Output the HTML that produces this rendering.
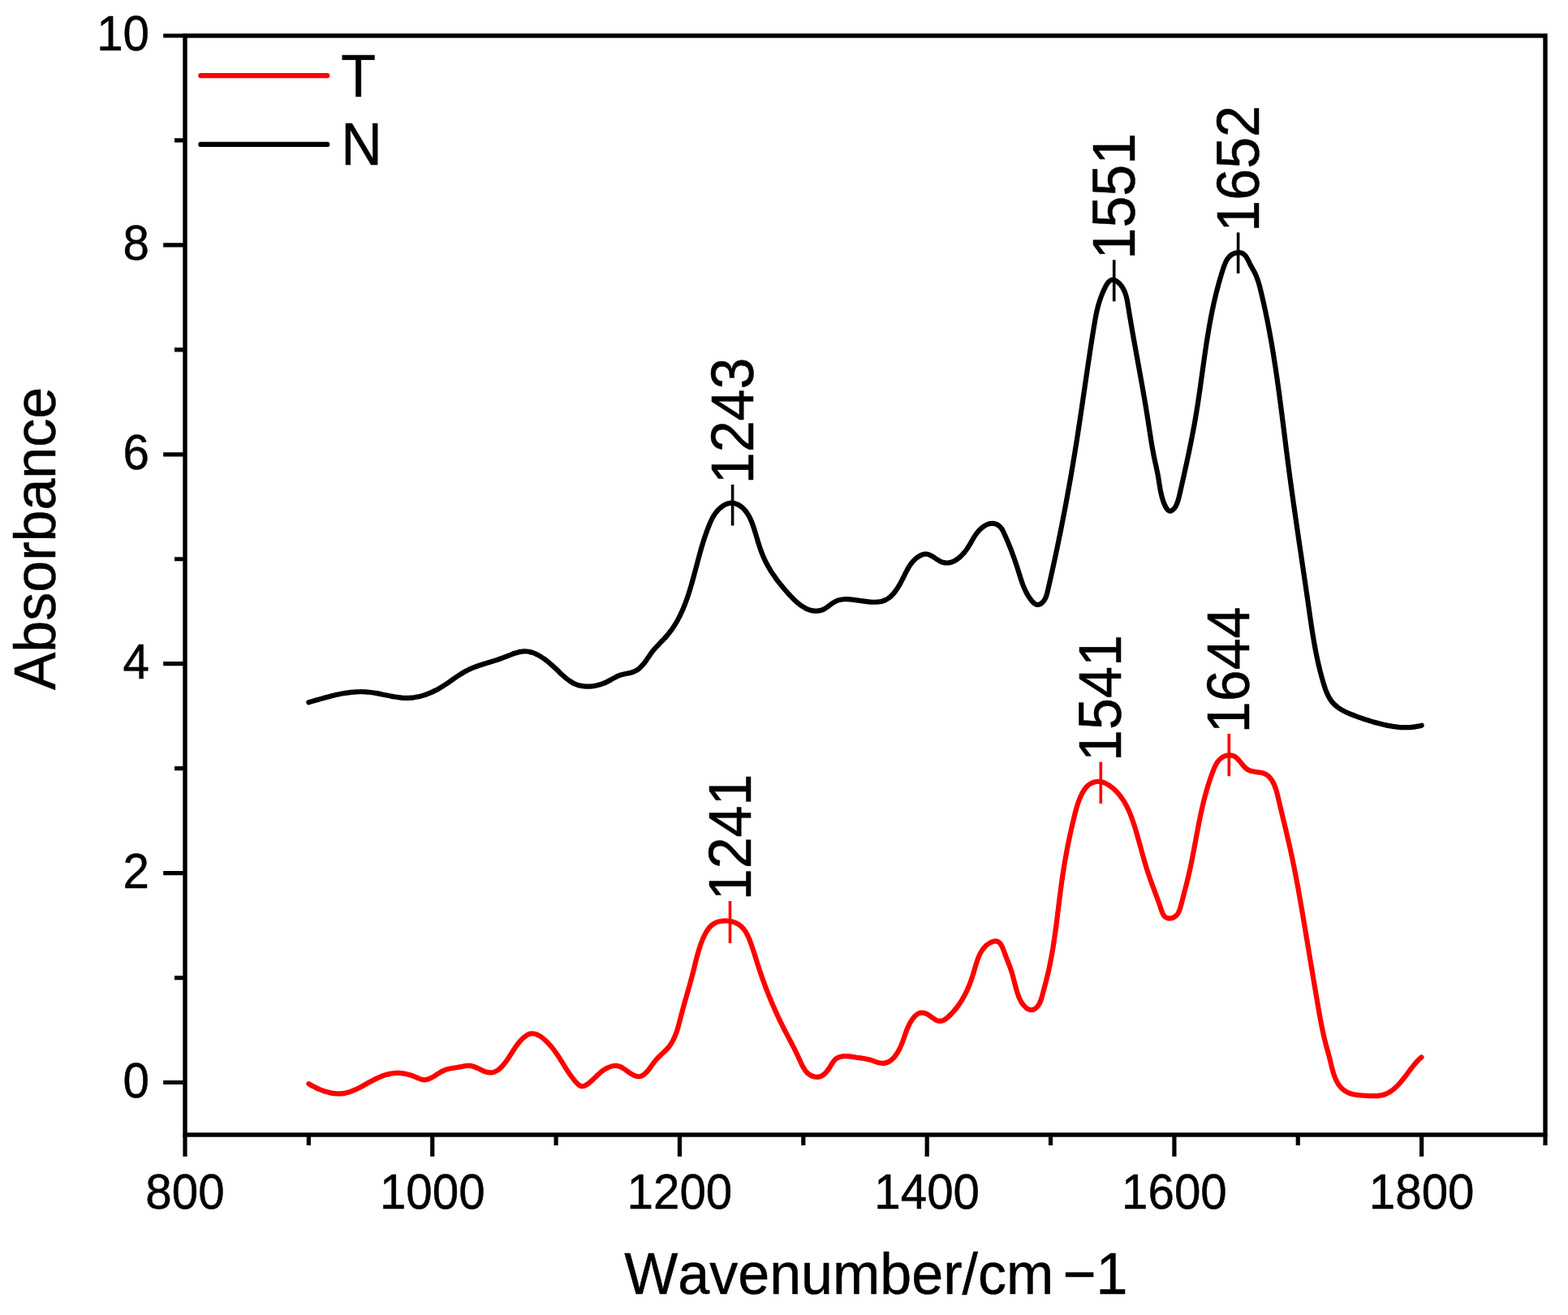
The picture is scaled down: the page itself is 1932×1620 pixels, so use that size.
<!DOCTYPE html>
<html lang="en">
<head>
<meta charset="utf-8">
<title>FTIR absorbance spectra</title>
<style>
html,body{margin:0;padding:0;background:#fff;}
body{width:1932px;height:1620px;overflow:hidden;}
svg{display:block;}
text{font-family:"Liberation Sans",Arial,Helvetica,sans-serif;fill:#000;font-kerning:none;stroke:#000;stroke-width:0.5px;stroke-linejoin:round;}
.tk{font-size:58.3px;}
.lb{font-size:70px;}
.ax{stroke:#000;fill:none;}
</style>
</head>
<body>
<svg xmlns="http://www.w3.org/2000/svg" width="1932" height="1620" viewBox="0 0 1932 1620">
<rect x="0" y="0" width="1932" height="1620" fill="#fff"/>
<g fill="none" stroke-linecap="round" stroke-linejoin="round" stroke-width="6.2">
<path stroke="#000" d="M380.32,865.21C380.95,865.03 382.83,864.5 384.1,864.14C385.36,863.78 386.63,863.41 387.9,863.05C389.17,862.68 390.44,862.32 391.72,861.95C393,861.58 394.28,861.22 395.56,860.86C396.85,860.49 398.13,860.13 399.42,859.78C400.71,859.42 402,859.07 403.3,858.72C404.59,858.38 405.89,858.04 407.19,857.71C408.49,857.38 409.8,857.06 411.1,856.75C412.41,856.44 413.71,856.13 415.02,855.84C416.33,855.56 417.65,855.28 418.96,855.02C420.28,854.75 421.59,854.5 422.91,854.27C424.23,854.04 425.55,853.82 426.87,853.63C428.19,853.43 429.52,853.25 430.84,853.09C432.17,852.93 433.5,852.79 434.82,852.67C436.15,852.55 437.48,852.45 438.81,852.38C440.14,852.31 441.48,852.26 442.81,852.24C444.14,852.21 445.48,852.21 446.81,852.24C448.15,852.28 449.49,852.33 450.82,852.42C452.16,852.51 453.5,852.63 454.84,852.77C456.17,852.92 457.51,853.09 458.85,853.28C460.19,853.48 461.53,853.7 462.87,853.92C464.21,854.15 465.55,854.4 466.88,854.66C468.22,854.91 469.56,855.18 470.9,855.45C472.23,855.72 473.57,855.99 474.91,856.27C476.24,856.54 477.57,856.81 478.91,857.07C480.24,857.34 481.57,857.6 482.9,857.84C484.23,858.08 485.55,858.32 486.88,858.53C488.2,858.74 489.53,858.94 490.85,859.11C492.17,859.27 493.48,859.42 494.8,859.54C496.11,859.65 497.43,859.74 498.73,859.79C500.04,859.84 501.35,859.86 502.65,859.83C503.95,859.81 505.25,859.74 506.54,859.64C507.84,859.53 509.13,859.39 510.42,859.2C511.7,859.02 512.98,858.8 514.26,858.55C515.53,858.29 516.8,858 518.07,857.68C519.33,857.35 520.59,857 521.85,856.61C523.1,856.22 524.35,855.8 525.58,855.35C526.82,854.9 528.06,854.42 529.28,853.92C530.51,853.41 531.73,852.88 532.93,852.32C534.14,851.76 535.35,851.17 536.54,850.56C537.73,849.95 538.92,849.32 540.09,848.67C541.27,848.01 542.43,847.34 543.59,846.64C544.74,845.95 545.89,845.23 547.03,844.5C548.17,843.77 549.29,843.02 550.42,842.26C551.54,841.51 552.65,840.73 553.77,839.96C554.88,839.19 555.99,838.41 557.1,837.64C558.2,836.86 559.31,836.08 560.42,835.31C561.53,834.55 562.63,833.78 563.75,833.03C564.86,832.28 565.98,831.54 567.1,830.83C568.23,830.11 569.36,829.4 570.5,828.73C571.64,828.05 572.79,827.39 573.95,826.77C575.11,826.14 576.28,825.55 577.46,824.98C578.65,824.41 579.84,823.88 581.05,823.36C582.26,822.84 583.47,822.36 584.7,821.88C585.92,821.41 587.16,820.96 588.4,820.52C589.64,820.08 590.89,819.66 592.15,819.25C593.4,818.84 594.67,818.44 595.93,818.04C597.2,817.65 598.48,817.26 599.75,816.87C601.03,816.48 602.31,816.1 603.59,815.71C604.88,815.33 606.16,814.94 607.45,814.54C608.74,814.15 610.03,813.75 611.32,813.33C612.6,812.92 613.89,812.49 615.18,812.05C616.47,811.61 617.76,811.16 619.04,810.68C620.33,810.21 621.61,809.71 622.89,809.2C624.16,808.7 625.44,808.17 626.71,807.66C627.99,807.16 629.26,806.64 630.52,806.16C631.79,805.68 633.05,805.21 634.31,804.79C635.57,804.37 636.83,803.97 638.08,803.65C639.33,803.32 640.58,803.03 641.83,802.83C643.08,802.62 644.32,802.47 645.56,802.42C646.8,802.37 648.03,802.41 649.26,802.52C650.49,802.64 651.72,802.85 652.94,803.12C654.16,803.39 655.38,803.75 656.59,804.16C657.79,804.57 659,805.06 660.19,805.6C661.39,806.14 662.57,806.74 663.75,807.39C664.93,808.04 666.1,808.75 667.26,809.49C668.42,810.23 669.57,811.02 670.71,811.84C671.85,812.66 672.98,813.52 674.1,814.4C675.22,815.28 676.33,816.19 677.42,817.12C678.52,818.04 679.6,819 680.67,819.95C681.74,820.91 682.79,821.88 683.84,822.85C684.88,823.82 685.9,824.8 686.92,825.77C687.93,826.73 688.93,827.7 689.93,828.65C690.92,829.6 691.91,830.55 692.9,831.46C693.9,832.37 694.88,833.28 695.88,834.14C696.88,835 697.88,835.85 698.9,836.65C699.92,837.44 700.95,838.21 702,838.93C703.05,839.64 704.11,840.32 705.2,840.93C706.3,841.55 707.41,842.12 708.56,842.62C709.71,843.12 710.89,843.57 712.1,843.94C713.31,844.32 714.56,844.63 715.82,844.88C717.08,845.13 718.37,845.32 719.67,845.45C720.98,845.58 722.3,845.65 723.63,845.67C724.96,845.69 726.3,845.64 727.64,845.55C728.99,845.45 730.34,845.3 731.68,845.1C733.02,844.9 734.36,844.65 735.68,844.35C737.01,844.04 738.33,843.69 739.63,843.3C740.93,842.9 742.21,842.45 743.47,841.97C744.73,841.48 745.96,840.94 747.17,840.37C748.37,839.8 749.53,839.17 750.69,838.54C751.85,837.91 752.97,837.23 754.12,836.59C755.26,835.94 756.39,835.27 757.56,834.66C758.73,834.05 759.9,833.44 761.13,832.91C762.37,832.38 763.63,831.89 764.95,831.48C766.27,831.07 767.66,830.76 769.05,830.45C770.43,830.13 771.87,829.89 773.27,829.59C774.66,829.29 776.08,829.02 777.41,828.66C778.74,828.29 780.05,827.89 781.27,827.38C782.49,826.87 783.62,826.27 784.71,825.59C785.79,824.92 786.8,824.15 787.77,823.34C788.75,822.52 789.66,821.63 790.54,820.7C791.42,819.77 792.26,818.77 793.08,817.76C793.9,816.74 794.68,815.67 795.46,814.59C796.24,813.52 796.99,812.41 797.76,811.3C798.52,810.19 799.28,809.06 800.05,807.94C800.82,806.83 801.6,805.71 802.4,804.62C803.21,803.53 804.04,802.45 804.89,801.4C805.75,800.35 806.63,799.32 807.53,798.31C808.43,797.3 809.35,796.31 810.28,795.32C811.2,794.34 812.14,793.37 813.08,792.4C814.01,791.43 814.96,790.46 815.89,789.49C816.82,788.53 817.75,787.56 818.66,786.58C819.56,785.6 820.46,784.61 821.34,783.61C822.21,782.61 823.06,781.59 823.89,780.56C824.72,779.53 825.52,778.49 826.31,777.43C827.1,776.37 827.86,775.3 828.61,774.22C829.35,773.14 830.08,772.04 830.79,770.94C831.5,769.83 832.18,768.71 832.86,767.58C833.53,766.45 834.18,765.31 834.82,764.16C835.45,763.01 836.07,761.85 836.68,760.68C837.28,759.51 837.87,758.33 838.44,757.14C839.02,755.96 839.57,754.76 840.12,753.55C840.66,752.35 841.19,751.14 841.71,749.92C842.23,748.7 842.73,747.47 843.22,746.23C843.72,745 844.2,743.76 844.66,742.51C845.13,741.26 845.59,740.01 846.04,738.75C846.49,737.5 846.93,736.23 847.35,734.97C847.78,733.7 848.2,732.43 848.61,731.15C849.03,729.88 849.43,728.6 849.82,727.31C850.22,726.03 850.61,724.75 850.99,723.46C851.37,722.17 851.75,720.88 852.12,719.59C852.49,718.3 852.86,717.01 853.22,715.71C853.58,714.42 853.94,713.13 854.29,711.83C854.64,710.54 854.99,709.24 855.34,707.95C855.69,706.65 856.03,705.36 856.38,704.06C856.72,702.77 857.06,701.48 857.41,700.18C857.75,698.89 858.09,697.6 858.43,696.3C858.77,695.01 859.11,693.72 859.45,692.43C859.8,691.14 860.14,689.85 860.49,688.56C860.83,687.27 861.18,685.98 861.53,684.7C861.88,683.41 862.24,682.12 862.59,680.84C862.95,679.56 863.31,678.27 863.68,676.99C864.05,675.71 864.42,674.43 864.8,673.16C865.18,671.88 865.56,670.6 865.95,669.33C866.34,668.06 866.74,666.79 867.14,665.52C867.55,664.25 867.96,662.98 868.38,661.72C868.8,660.45 869.23,659.19 869.67,657.93C870.11,656.68 870.56,655.42 871.02,654.17C871.48,652.91 871.95,651.66 872.43,650.42C872.92,649.17 873.4,647.92 873.91,646.69C874.42,645.45 874.94,644.21 875.49,642.99C876.04,641.77 876.6,640.56 877.21,639.38C877.81,638.19 878.44,637.02 879.13,635.88C879.81,634.74 880.52,633.62 881.29,632.54C882.06,631.46 882.88,630.41 883.76,629.4C884.64,628.4 885.57,627.42 886.58,626.51C887.58,625.59 888.67,624.7 889.79,623.9C890.92,623.11 892.13,622.35 893.35,621.74C894.57,621.13 895.85,620.59 897.13,620.23C898.41,619.87 899.73,619.62 901.02,619.57C902.32,619.53 903.64,619.68 904.91,619.97C906.19,620.27 907.47,620.78 908.67,621.35C909.87,621.92 911.04,622.64 912.13,623.38C913.22,624.13 914.24,624.95 915.2,625.82C916.17,626.69 917.06,627.62 917.91,628.6C918.76,629.57 919.54,630.6 920.29,631.67C921.03,632.74 921.72,633.85 922.38,635C923.04,636.14 923.65,637.33 924.23,638.54C924.81,639.75 925.35,640.99 925.87,642.25C926.39,643.51 926.87,644.8 927.34,646.09C927.81,647.38 928.25,648.7 928.68,650.01C929.12,651.33 929.53,652.66 929.94,653.98C930.35,655.31 930.75,656.63 931.15,657.95C931.54,659.27 931.93,660.59 932.33,661.91C932.72,663.22 933.11,664.54 933.51,665.84C933.91,667.15 934.3,668.45 934.71,669.74C935.12,671.03 935.53,672.32 935.95,673.6C936.37,674.88 936.8,676.15 937.25,677.41C937.69,678.67 938.15,679.92 938.63,681.16C939.11,682.4 939.6,683.62 940.11,684.84C940.63,686.06 941.16,687.26 941.71,688.45C942.26,689.65 942.82,690.83 943.41,692C943.99,693.17 944.6,694.33 945.22,695.48C945.84,696.63 946.47,697.77 947.13,698.91C947.78,700.04 948.45,701.16 949.13,702.28C949.82,703.39 950.52,704.5 951.23,705.6C951.95,706.7 952.68,707.79 953.42,708.87C954.16,709.96 954.92,711.03 955.7,712.1C956.47,713.17 957.25,714.23 958.05,715.29C958.85,716.35 959.67,717.4 960.49,718.45C961.32,719.5 962.15,720.54 963,721.57C963.85,722.61 964.72,723.64 965.59,724.67C966.46,725.7 967.35,726.72 968.24,727.74C969.14,728.76 970.04,729.78 970.96,730.8C971.87,731.81 972.8,732.83 973.74,733.83C974.67,734.84 975.62,735.84 976.58,736.82C977.55,737.8 978.52,738.77 979.51,739.7C980.51,740.64 981.51,741.56 982.54,742.43C983.56,743.31 984.61,744.16 985.67,744.96C986.74,745.76 987.82,746.52 988.93,747.22C990.04,747.93 991.17,748.59 992.32,749.18C993.48,749.77 994.66,750.31 995.86,750.77C997.07,751.23 998.31,751.64 999.55,751.94C1000.8,752.25 1002.07,752.48 1003.34,752.6C1004.61,752.72 1005.9,752.76 1007.17,752.67C1008.45,752.58 1009.73,752.39 1010.99,752.05C1012.25,751.72 1013.5,751.25 1014.73,750.66C1015.96,750.07 1017.17,749.29 1018.37,748.5C1019.57,747.71 1020.74,746.77 1021.92,745.9C1023.1,745.04 1024.26,744.1 1025.43,743.3C1026.61,742.51 1027.77,741.75 1028.96,741.13C1030.14,740.52 1031.32,740.02 1032.52,739.61C1033.71,739.21 1034.92,738.91 1036.14,738.68C1037.36,738.45 1038.59,738.31 1039.83,738.23C1041.08,738.14 1042.34,738.13 1043.62,738.16C1044.9,738.19 1046.19,738.28 1047.51,738.39C1048.83,738.5 1050.17,738.65 1051.51,738.82C1052.86,738.98 1054.23,739.18 1055.61,739.38C1056.98,739.57 1058.37,739.79 1059.75,740C1061.14,740.2 1062.53,740.42 1063.92,740.62C1065.31,740.81 1066.7,741 1068.08,741.16C1069.46,741.32 1070.84,741.47 1072.2,741.57C1073.57,741.67 1074.92,741.74 1076.26,741.76C1077.59,741.78 1078.91,741.77 1080.2,741.69C1081.5,741.61 1082.77,741.48 1084.02,741.27C1085.26,741.06 1086.48,740.8 1087.67,740.44C1088.85,740.08 1090.01,739.66 1091.12,739.13C1092.23,738.61 1093.31,737.99 1094.35,737.29C1095.38,736.59 1096.38,735.79 1097.35,734.94C1098.31,734.08 1099.24,733.14 1100.14,732.15C1101.04,731.16 1101.9,730.1 1102.74,729C1103.58,727.91 1104.38,726.75 1105.17,725.58C1105.95,724.4 1106.7,723.18 1107.44,721.95C1108.17,720.72 1108.88,719.45 1109.56,718.19C1110.25,716.94 1110.92,715.66 1111.57,714.39C1112.22,713.13 1112.85,711.86 1113.47,710.62C1114.1,709.38 1114.7,708.14 1115.31,706.93C1115.92,705.72 1116.52,704.52 1117.14,703.35C1117.77,702.18 1118.39,701.03 1119.04,699.91C1119.7,698.78 1120.36,697.69 1121.07,696.62C1121.78,695.56 1122.51,694.52 1123.3,693.52C1124.08,692.53 1124.9,691.56 1125.79,690.64C1126.67,689.71 1127.6,688.83 1128.61,687.99C1129.61,687.15 1130.68,686.32 1131.82,685.6C1132.96,684.87 1134.19,684.13 1135.43,683.62C1136.66,683.11 1137.96,682.68 1139.23,682.55C1140.5,682.42 1141.77,682.55 1143.03,682.84C1144.28,683.13 1145.53,683.69 1146.77,684.29C1148.02,684.89 1149.25,685.69 1150.48,686.46C1151.71,687.23 1152.94,688.11 1154.17,688.89C1155.39,689.67 1156.62,690.49 1157.85,691.13C1159.07,691.78 1160.3,692.35 1161.53,692.74C1162.76,693.12 1164,693.35 1165.22,693.44C1166.45,693.54 1167.68,693.48 1168.89,693.31C1170.11,693.14 1171.31,692.84 1172.5,692.44C1173.69,692.04 1174.87,691.51 1176.02,690.91C1177.17,690.31 1178.3,689.61 1179.4,688.84C1180.51,688.07 1181.59,687.21 1182.63,686.31C1183.67,685.4 1184.69,684.43 1185.66,683.42C1186.63,682.41 1187.57,681.34 1188.45,680.26C1189.34,679.18 1190.19,678.06 1190.99,676.94C1191.79,675.82 1192.53,674.67 1193.26,673.53C1193.98,672.38 1194.66,671.23 1195.35,670.08C1196.03,668.92 1196.68,667.77 1197.34,666.62C1198.01,665.48 1198.65,664.33 1199.33,663.21C1200.01,662.09 1200.69,660.97 1201.41,659.88C1202.13,658.8 1202.87,657.72 1203.66,656.69C1204.46,655.65 1205.28,654.63 1206.18,653.66C1207.08,652.69 1208.02,651.74 1209.05,650.85C1210.08,649.95 1211.18,649.07 1212.35,648.3C1213.51,647.54 1214.75,646.81 1216.02,646.26C1217.29,645.71 1218.62,645.26 1219.95,645.03C1221.27,644.8 1222.67,644.74 1223.97,644.87C1225.28,645.01 1226.61,645.33 1227.79,645.82C1228.98,646.3 1230.09,646.99 1231.07,647.8C1232.05,648.61 1232.89,649.61 1233.67,650.67C1234.46,651.72 1235.13,652.93 1235.79,654.14C1236.44,655.35 1237.02,656.65 1237.6,657.92C1238.19,659.19 1238.74,660.47 1239.3,661.74C1239.85,663.01 1240.39,664.27 1240.93,665.52C1241.46,666.78 1241.98,668.03 1242.5,669.27C1243.01,670.52 1243.51,671.76 1244.01,673C1244.51,674.24 1244.99,675.47 1245.47,676.71C1245.95,677.94 1246.42,679.17 1246.89,680.41C1247.35,681.64 1247.81,682.87 1248.26,684.11C1248.71,685.34 1249.15,686.57 1249.59,687.81C1250.03,689.05 1250.46,690.29 1250.88,691.53C1251.31,692.77 1251.73,694.02 1252.15,695.27C1252.56,696.52 1252.97,697.78 1253.38,699.04C1253.78,700.3 1254.18,701.57 1254.58,702.85C1254.98,704.12 1255.37,705.41 1255.77,706.69C1256.17,707.98 1256.57,709.27 1256.98,710.55C1257.39,711.84 1257.81,713.13 1258.24,714.42C1258.67,715.7 1259.11,716.99 1259.58,718.26C1260.04,719.54 1260.52,720.81 1261.02,722.07C1261.53,723.33 1262.05,724.59 1262.61,725.83C1263.17,727.06 1263.75,728.29 1264.37,729.5C1265,730.72 1265.65,731.91 1266.34,733.09C1267.04,734.27 1267.77,735.43 1268.55,736.57C1269.33,737.7 1270.15,738.85 1271.02,739.91C1271.9,740.96 1272.82,742.08 1273.79,742.89C1274.77,743.7 1275.79,744.45 1276.86,744.76C1277.94,745.07 1279.12,745.05 1280.23,744.75C1281.34,744.45 1282.54,743.72 1283.54,742.97C1284.53,742.22 1285.43,741.24 1286.19,740.24C1286.96,739.23 1287.57,738.11 1288.12,736.95C1288.67,735.8 1289.1,734.54 1289.51,733.28C1289.92,732.01 1290.24,730.68 1290.57,729.37C1290.9,728.05 1291.19,726.7 1291.5,725.36C1291.81,724.03 1292.11,722.7 1292.42,721.36C1292.72,720.03 1293.03,718.7 1293.33,717.37C1293.63,716.04 1293.93,714.71 1294.23,713.38C1294.53,712.05 1294.82,710.73 1295.12,709.4C1295.42,708.07 1295.71,706.75 1296.01,705.42C1296.3,704.1 1296.59,702.77 1296.88,701.45C1297.17,700.13 1297.46,698.81 1297.75,697.48C1298.04,696.16 1298.33,694.84 1298.62,693.52C1298.9,692.2 1299.19,690.88 1299.47,689.56C1299.75,688.24 1300.04,686.93 1300.32,685.61C1300.6,684.29 1300.88,682.97 1301.16,681.66C1301.44,680.34 1301.71,679.03 1301.99,677.71C1302.27,676.4 1302.54,675.08 1302.82,673.77C1303.09,672.46 1303.36,671.14 1303.63,669.83C1303.91,668.52 1304.18,667.2 1304.45,665.89C1304.72,664.58 1304.98,663.27 1305.25,661.96C1305.52,660.65 1305.78,659.34 1306.05,658.03C1306.31,656.72 1306.58,655.41 1306.84,654.1C1307.1,652.79 1307.36,651.48 1307.62,650.17C1307.88,648.86 1308.14,647.56 1308.4,646.25C1308.66,644.94 1308.92,643.63 1309.17,642.32C1309.43,641.02 1309.68,639.71 1309.94,638.4C1310.19,637.1 1310.44,635.79 1310.69,634.48C1310.95,633.18 1311.2,631.87 1311.44,630.56C1311.69,629.26 1311.94,627.95 1312.19,626.64C1312.44,625.34 1312.68,624.03 1312.93,622.73C1313.17,621.42 1313.42,620.12 1313.66,618.81C1313.9,617.5 1314.15,616.2 1314.39,614.89C1314.63,613.59 1314.87,612.28 1315.11,610.97C1315.35,609.67 1315.58,608.36 1315.82,607.06C1316.06,605.75 1316.3,604.44 1316.53,603.14C1316.77,601.83 1317,600.53 1317.23,599.22C1317.47,597.91 1317.7,596.61 1317.93,595.3C1318.16,593.99 1318.39,592.69 1318.62,591.38C1318.85,590.07 1319.08,588.76 1319.31,587.46C1319.53,586.15 1319.76,584.84 1319.99,583.53C1320.21,582.22 1320.44,580.91 1320.66,579.6C1320.88,578.3 1321.11,576.99 1321.33,575.68C1321.55,574.37 1321.77,573.06 1321.99,571.75C1322.21,570.43 1322.43,569.12 1322.65,567.81C1322.87,566.5 1323.09,565.19 1323.3,563.88C1323.52,562.56 1323.74,561.25 1323.95,559.94C1324.17,558.62 1324.38,557.31 1324.6,555.99C1324.81,554.68 1325.02,553.37 1325.23,552.05C1325.44,550.73 1325.66,549.42 1325.87,548.1C1326.08,546.78 1326.29,545.46 1326.49,544.15C1326.7,542.83 1326.91,541.51 1327.12,540.19C1327.32,538.87 1327.53,537.55 1327.74,536.23C1327.94,534.91 1328.15,533.58 1328.35,532.26C1328.55,530.94 1328.76,529.61 1328.96,528.29C1329.16,526.97 1329.36,525.64 1329.57,524.32C1329.77,522.99 1329.97,521.67 1330.17,520.34C1330.37,519.01 1330.57,517.69 1330.77,516.36C1330.97,515.03 1331.16,513.71 1331.36,512.38C1331.56,511.05 1331.76,509.72 1331.96,508.4C1332.15,507.07 1332.35,505.74 1332.55,504.41C1332.74,503.08 1332.94,501.75 1333.13,500.42C1333.33,499.09 1333.53,497.76 1333.72,496.44C1333.92,495.11 1334.11,493.78 1334.31,492.45C1334.5,491.12 1334.7,489.79 1334.89,488.46C1335.09,487.13 1335.28,485.8 1335.47,484.47C1335.67,483.14 1335.86,481.81 1336.06,480.49C1336.25,479.16 1336.44,477.83 1336.64,476.5C1336.83,475.17 1337.03,473.84 1337.22,472.52C1337.42,471.19 1337.61,469.86 1337.8,468.53C1338,467.21 1338.19,465.88 1338.39,464.56C1338.58,463.23 1338.78,461.9 1338.97,460.58C1339.17,459.25 1339.36,457.93 1339.56,456.61C1339.75,455.28 1339.95,453.96 1340.15,452.64C1340.34,451.31 1340.54,449.99 1340.73,448.67C1340.93,447.35 1341.13,446.03 1341.33,444.71C1341.52,443.39 1341.72,442.07 1341.92,440.75C1342.12,439.43 1342.32,438.12 1342.52,436.8C1342.72,435.48 1342.92,434.17 1343.12,432.85C1343.32,431.54 1343.52,430.23 1343.72,428.91C1343.92,427.6 1344.12,426.29 1344.33,424.98C1344.53,423.67 1344.73,422.36 1344.94,421.05C1345.14,419.75 1345.35,418.44 1345.55,417.13C1345.76,415.83 1345.96,414.52 1346.17,413.22C1346.38,411.92 1346.59,410.62 1346.8,409.32C1347.01,408.02 1347.22,406.72 1347.43,405.42C1347.64,404.12 1347.85,402.83 1348.06,401.53C1348.28,400.24 1348.49,398.95 1348.71,397.66C1348.93,396.36 1349.15,395.07 1349.39,393.78C1349.62,392.49 1349.86,391.2 1350.11,389.91C1350.36,388.62 1350.62,387.32 1350.89,386.03C1351.17,384.74 1351.45,383.45 1351.75,382.15C1352.06,380.86 1352.37,379.56 1352.71,378.26C1353.05,376.96 1353.41,375.66 1353.78,374.36C1354.16,373.06 1354.56,371.75 1354.99,370.44C1355.41,369.13 1355.86,367.82 1356.33,366.51C1356.81,365.19 1357.31,363.87 1357.85,362.55C1358.38,361.23 1358.94,359.9 1359.54,358.57C1360.14,357.23 1360.76,355.87 1361.43,354.56C1362.1,353.24 1362.8,351.88 1363.54,350.69C1364.29,349.51 1365.07,348.34 1365.9,347.43C1366.74,346.53 1367.61,345.73 1368.54,345.27C1369.47,344.82 1370.47,344.61 1371.49,344.68C1372.5,344.75 1373.59,345.14 1374.63,345.67C1375.68,346.2 1376.76,346.99 1377.75,347.84C1378.75,348.69 1379.74,349.73 1380.62,350.77C1381.5,351.81 1382.3,352.93 1383.02,354.06C1383.74,355.2 1384.37,356.37 1384.94,357.56C1385.51,358.76 1386,359.99 1386.45,361.24C1386.9,362.49 1387.29,363.77 1387.64,365.06C1387.99,366.35 1388.29,367.66 1388.58,368.98C1388.86,370.3 1389.1,371.63 1389.34,372.97C1389.58,374.31 1389.79,375.66 1390.01,377C1390.23,378.34 1390.44,379.69 1390.66,381.03C1390.88,382.37 1391.09,383.71 1391.31,385.05C1391.53,386.39 1391.75,387.72 1391.98,389.06C1392.2,390.39 1392.42,391.73 1392.65,393.06C1392.87,394.39 1393.1,395.72 1393.32,397.05C1393.55,398.38 1393.78,399.7 1394,401.03C1394.23,402.36 1394.46,403.68 1394.69,405.01C1394.92,406.33 1395.15,407.65 1395.39,408.97C1395.62,410.29 1395.85,411.61 1396.08,412.93C1396.32,414.25 1396.55,415.57 1396.78,416.89C1397.02,418.2 1397.25,419.52 1397.49,420.83C1397.72,422.15 1397.96,423.46 1398.2,424.78C1398.43,426.09 1398.67,427.4 1398.91,428.71C1399.14,430.02 1399.38,431.34 1399.62,432.65C1399.85,433.96 1400.09,435.27 1400.33,436.58C1400.57,437.88 1400.81,439.19 1401.04,440.5C1401.28,441.81 1401.52,443.12 1401.76,444.42C1402,445.73 1402.23,447.04 1402.47,448.35C1402.71,449.65 1402.95,450.96 1403.19,452.27C1403.42,453.57 1403.66,454.88 1403.9,456.18C1404.13,457.49 1404.37,458.8 1404.61,460.1C1404.84,461.41 1405.08,462.71 1405.32,464.02C1405.55,465.32 1405.79,466.63 1406.02,467.94C1406.25,469.24 1406.49,470.55 1406.72,471.85C1406.96,473.16 1407.19,474.47 1407.42,475.77C1407.65,477.08 1407.88,478.39 1408.11,479.7C1408.34,481 1408.57,482.31 1408.8,483.62C1409.03,484.93 1409.26,486.24 1409.48,487.55C1409.71,488.86 1409.94,490.17 1410.16,491.48C1410.39,492.79 1410.61,494.1 1410.83,495.42C1411.05,496.73 1411.28,498.04 1411.5,499.35C1411.72,500.67 1411.93,501.98 1412.15,503.3C1412.37,504.62 1412.59,505.93 1412.8,507.25C1413.01,508.57 1413.23,509.89 1413.44,511.21C1413.65,512.53 1413.86,513.85 1414.07,515.17C1414.28,516.49 1414.49,517.82 1414.69,519.14C1414.9,520.47 1415.1,521.79 1415.3,523.12C1415.51,524.44 1415.71,525.77 1415.91,527.1C1416.11,528.43 1416.31,529.76 1416.52,531.09C1416.72,532.41 1416.92,533.74 1417.13,535.07C1417.33,536.4 1417.54,537.73 1417.75,539.05C1417.96,540.38 1418.17,541.71 1418.38,543.03C1418.6,544.36 1418.82,545.68 1419.04,547C1419.26,548.33 1419.48,549.65 1419.71,550.96C1419.94,552.28 1420.18,553.6 1420.42,554.91C1420.66,556.23 1420.9,557.54 1421.15,558.85C1421.41,560.16 1421.66,561.47 1421.93,562.77C1422.19,564.07 1422.47,565.37 1422.74,566.67C1423.02,567.97 1423.31,569.26 1423.59,570.55C1423.88,571.84 1424.17,573.13 1424.46,574.43C1424.74,575.72 1425.03,577.01 1425.3,578.3C1425.58,579.59 1425.85,580.89 1426.11,582.18C1426.37,583.48 1426.62,584.78 1426.85,586.09C1427.08,587.39 1427.3,588.7 1427.51,590.01C1427.72,591.33 1427.92,592.64 1428.13,593.96C1428.34,595.28 1428.54,596.61 1428.75,597.94C1428.97,599.26 1429.18,600.6 1429.42,601.93C1429.66,603.26 1429.91,604.6 1430.19,605.94C1430.47,607.28 1430.77,608.62 1431.1,609.96C1431.44,611.31 1431.8,612.65 1432.2,614C1432.61,615.35 1433.04,616.7 1433.54,618.05C1434.03,619.4 1434.56,620.8 1435.15,622.1C1435.74,623.4 1436.38,624.77 1437.07,625.85C1437.77,626.94 1438.51,627.98 1439.3,628.61C1440.1,629.24 1440.96,629.66 1441.84,629.63C1442.71,629.61 1443.72,629.05 1444.58,628.46C1445.44,627.88 1446.27,627 1447,626.11C1447.73,625.23 1448.36,624.22 1448.94,623.16C1449.52,622.09 1450.02,620.93 1450.49,619.73C1450.95,618.53 1451.36,617.25 1451.74,615.95C1452.13,614.66 1452.46,613.3 1452.8,611.95C1453.13,610.6 1453.44,609.22 1453.75,607.85C1454.06,606.48 1454.37,605.11 1454.68,603.75C1454.99,602.38 1455.3,601.02 1455.61,599.66C1455.91,598.31 1456.22,596.95 1456.52,595.6C1456.83,594.25 1457.13,592.9 1457.43,591.56C1457.73,590.21 1458.03,588.87 1458.33,587.53C1458.63,586.19 1458.93,584.85 1459.22,583.52C1459.52,582.19 1459.81,580.85 1460.1,579.53C1460.4,578.2 1460.69,576.87 1460.98,575.54C1461.27,574.22 1461.56,572.9 1461.84,571.58C1462.13,570.26 1462.41,568.94 1462.69,567.62C1462.98,566.3 1463.26,564.99 1463.54,563.68C1463.82,562.36 1464.09,561.05 1464.37,559.74C1464.64,558.43 1464.92,557.12 1465.19,555.81C1465.46,554.51 1465.73,553.2 1466,551.89C1466.27,550.59 1466.53,549.29 1466.79,547.98C1467.06,546.68 1467.32,545.38 1467.58,544.07C1467.84,542.77 1468.09,541.47 1468.35,540.17C1468.6,538.87 1468.86,537.57 1469.11,536.27C1469.36,534.97 1469.61,533.67 1469.85,532.37C1470.1,531.08 1470.34,529.78 1470.58,528.48C1470.82,527.18 1471.06,525.88 1471.3,524.58C1471.54,523.28 1471.77,521.98 1472,520.68C1472.23,519.38 1472.46,518.08 1472.69,516.78C1472.91,515.48 1473.14,514.18 1473.36,512.88C1473.58,511.58 1473.8,510.27 1474.01,508.97C1474.23,507.67 1474.44,506.36 1474.65,505.06C1474.86,503.75 1475.07,502.45 1475.28,501.14C1475.48,499.83 1475.69,498.52 1475.89,497.21C1476.09,495.91 1476.29,494.6 1476.49,493.29C1476.69,491.98 1476.88,490.67 1477.08,489.35C1477.27,488.04 1477.46,486.73 1477.66,485.42C1477.85,484.1 1478.04,482.79 1478.23,481.48C1478.42,480.16 1478.6,478.85 1478.79,477.53C1478.98,476.22 1479.16,474.9 1479.35,473.58C1479.53,472.27 1479.72,470.95 1479.9,469.63C1480.09,468.31 1480.27,467 1480.45,465.68C1480.64,464.36 1480.82,463.04 1481,461.72C1481.19,460.4 1481.37,459.08 1481.55,457.76C1481.74,456.44 1481.92,455.12 1482.1,453.8C1482.29,452.48 1482.47,451.16 1482.66,449.84C1482.84,448.52 1483.03,447.2 1483.21,445.88C1483.4,444.55 1483.59,443.23 1483.78,441.91C1483.96,440.59 1484.15,439.27 1484.34,437.94C1484.53,436.62 1484.73,435.3 1484.92,433.98C1485.11,432.65 1485.31,431.33 1485.51,430.01C1485.7,428.69 1485.9,427.36 1486.1,426.04C1486.3,424.72 1486.5,423.4 1486.71,422.07C1486.91,420.75 1487.12,419.43 1487.33,418.11C1487.54,416.79 1487.75,415.46 1487.97,414.14C1488.18,412.82 1488.4,411.5 1488.62,410.18C1488.84,408.85 1489.06,407.53 1489.28,406.21C1489.51,404.89 1489.74,403.57 1489.97,402.25C1490.2,400.93 1490.44,399.61 1490.68,398.29C1490.92,396.97 1491.16,395.65 1491.4,394.33C1491.65,393.01 1491.9,391.69 1492.15,390.37C1492.41,389.05 1492.66,387.73 1492.93,386.42C1493.19,385.1 1493.45,383.78 1493.72,382.46C1494,381.15 1494.27,379.83 1494.55,378.52C1494.83,377.2 1495.11,375.88 1495.4,374.57C1495.69,373.26 1495.98,371.94 1496.28,370.63C1496.58,369.32 1496.89,368 1497.2,366.69C1497.5,365.38 1497.82,364.07 1498.14,362.76C1498.46,361.45 1498.78,360.14 1499.12,358.83C1499.45,357.52 1499.78,356.21 1500.13,354.9C1500.47,353.59 1500.82,352.29 1501.17,350.98C1501.53,349.68 1501.89,348.37 1502.26,347.07C1502.62,345.76 1503,344.46 1503.38,343.16C1503.76,341.86 1504.15,340.56 1504.54,339.26C1504.93,337.95 1505.34,336.66 1505.74,335.36C1506.15,334.06 1506.56,332.76 1506.99,331.47C1507.42,330.18 1507.84,328.88 1508.31,327.62C1508.77,326.36 1509.25,325.1 1509.79,323.91C1510.33,322.72 1510.89,321.55 1511.54,320.46C1512.18,319.37 1512.86,318.33 1513.64,317.38C1514.42,316.43 1515.26,315.55 1516.21,314.78C1517.15,314.01 1518.18,313.31 1519.32,312.76C1520.47,312.21 1521.77,311.73 1523.07,311.45C1524.37,311.17 1525.83,311 1527.14,311.08C1528.44,311.17 1529.77,311.44 1530.9,311.97C1532.02,312.5 1533,313.33 1533.9,314.27C1534.8,315.21 1535.55,316.4 1536.29,317.6C1537.02,318.8 1537.65,320.17 1538.31,321.47C1538.96,322.77 1539.57,324.14 1540.22,325.41C1540.86,326.67 1541.53,327.88 1542.19,329.06C1542.85,330.25 1543.52,331.37 1544.16,332.52C1544.79,333.67 1545.42,334.79 1545.99,335.95C1546.57,337.12 1547.11,338.3 1547.62,339.5C1548.13,340.7 1548.6,341.92 1549.06,343.15C1549.51,344.39 1549.93,345.64 1550.33,346.9C1550.73,348.16 1551.11,349.43 1551.47,350.71C1551.83,351.99 1552.18,353.28 1552.51,354.57C1552.85,355.87 1553.17,357.17 1553.49,358.47C1553.81,359.77 1554.12,361.07 1554.43,362.37C1554.74,363.68 1555.05,364.98 1555.36,366.28C1555.66,367.59 1555.96,368.89 1556.26,370.2C1556.55,371.5 1556.85,372.81 1557.14,374.11C1557.43,375.42 1557.72,376.72 1558.01,378.03C1558.29,379.33 1558.57,380.64 1558.85,381.95C1559.13,383.25 1559.41,384.56 1559.68,385.87C1559.96,387.18 1560.23,388.49 1560.49,389.79C1560.76,391.1 1561.03,392.41 1561.29,393.72C1561.55,395.03 1561.81,396.34 1562.07,397.65C1562.33,398.96 1562.58,400.27 1562.83,401.58C1563.09,402.89 1563.34,404.2 1563.58,405.51C1563.83,406.82 1564.07,408.14 1564.32,409.45C1564.56,410.76 1564.8,412.07 1565.04,413.39C1565.27,414.7 1565.51,416.01 1565.74,417.32C1565.98,418.64 1566.21,419.95 1566.44,421.27C1566.66,422.58 1566.89,423.89 1567.12,425.21C1567.34,426.52 1567.56,427.84 1567.78,429.15C1568,430.47 1568.22,431.78 1568.44,433.1C1568.65,434.42 1568.87,435.73 1569.08,437.05C1569.29,438.36 1569.5,439.68 1569.71,441C1569.92,442.31 1570.13,443.63 1570.33,444.95C1570.54,446.27 1570.74,447.58 1570.95,448.9C1571.15,450.22 1571.35,451.54 1571.55,452.86C1571.75,454.17 1571.94,455.49 1572.14,456.81C1572.34,458.13 1572.53,459.45 1572.72,460.77C1572.92,462.09 1573.11,463.41 1573.3,464.73C1573.49,466.05 1573.68,467.37 1573.86,468.69C1574.05,470.01 1574.24,471.33 1574.42,472.65C1574.61,473.97 1574.79,475.29 1574.97,476.61C1575.16,477.93 1575.34,479.25 1575.52,480.57C1575.7,481.89 1575.88,483.21 1576.06,484.54C1576.24,485.86 1576.41,487.18 1576.59,488.5C1576.77,489.82 1576.94,491.15 1577.12,492.47C1577.29,493.79 1577.47,495.11 1577.64,496.43C1577.82,497.76 1577.99,499.08 1578.16,500.4C1578.33,501.73 1578.5,503.05 1578.68,504.37C1578.85,505.69 1579.02,507.02 1579.19,508.34C1579.36,509.66 1579.53,510.99 1579.69,512.31C1579.86,513.63 1580.03,514.96 1580.2,516.28C1580.37,517.61 1580.53,518.93 1580.7,520.25C1580.87,521.58 1581.04,522.9 1581.2,524.22C1581.37,525.55 1581.54,526.87 1581.7,528.2C1581.87,529.52 1582.04,530.85 1582.2,532.17C1582.37,533.49 1582.53,534.82 1582.7,536.14C1582.87,537.47 1583.03,538.79 1583.2,540.12C1583.37,541.44 1583.53,542.77 1583.7,544.09C1583.86,545.42 1584.03,546.74 1584.2,548.06C1584.37,549.39 1584.53,550.71 1584.7,552.04C1584.87,553.36 1585.04,554.69 1585.2,556.01C1585.37,557.34 1585.54,558.66 1585.71,559.99C1585.88,561.31 1586.05,562.64 1586.22,563.96C1586.39,565.29 1586.56,566.61 1586.73,567.94C1586.9,569.26 1587.07,570.59 1587.24,571.91C1587.42,573.24 1587.59,574.56 1587.76,575.89C1587.94,577.21 1588.11,578.53 1588.29,579.86C1588.46,581.18 1588.64,582.51 1588.81,583.83C1588.99,585.16 1589.17,586.48 1589.35,587.81C1589.53,589.13 1589.7,590.46 1589.88,591.78C1590.06,593.1 1590.24,594.43 1590.42,595.75C1590.61,597.08 1590.79,598.4 1590.97,599.73C1591.15,601.05 1591.33,602.37 1591.52,603.7C1591.7,605.02 1591.89,606.35 1592.07,607.67C1592.25,608.99 1592.44,610.32 1592.63,611.64C1592.81,612.97 1593,614.29 1593.18,615.61C1593.37,616.94 1593.56,618.26 1593.75,619.58C1593.93,620.91 1594.12,622.23 1594.31,623.55C1594.5,624.88 1594.69,626.2 1594.88,627.52C1595.07,628.85 1595.26,630.17 1595.45,631.49C1595.64,632.82 1595.83,634.14 1596.02,635.46C1596.21,636.79 1596.4,638.11 1596.59,639.43C1596.78,640.75 1596.98,642.08 1597.17,643.4C1597.36,644.72 1597.55,646.04 1597.75,647.37C1597.94,648.69 1598.13,650.01 1598.32,651.33C1598.52,652.66 1598.71,653.98 1598.91,655.3C1599.1,656.62 1599.29,657.95 1599.49,659.27C1599.68,660.59 1599.88,661.91 1600.07,663.23C1600.27,664.55 1600.46,665.88 1600.65,667.2C1600.85,668.52 1601.04,669.84 1601.24,671.16C1601.43,672.48 1601.63,673.8 1601.82,675.12C1602.02,676.45 1602.22,677.77 1602.41,679.09C1602.61,680.41 1602.8,681.73 1603,683.05C1603.19,684.37 1603.39,685.69 1603.58,687.01C1603.78,688.33 1603.97,689.65 1604.17,690.97C1604.36,692.29 1604.56,693.61 1604.75,694.93C1604.95,696.25 1605.15,697.57 1605.34,698.89C1605.54,700.21 1605.73,701.53 1605.93,702.85C1606.12,704.17 1606.31,705.49 1606.51,706.81C1606.7,708.12 1606.9,709.44 1607.09,710.76C1607.29,712.08 1607.48,713.4 1607.67,714.72C1607.87,716.04 1608.06,717.35 1608.25,718.67C1608.45,719.99 1608.64,721.31 1608.83,722.63C1609.03,723.94 1609.22,725.26 1609.41,726.58C1609.6,727.9 1609.79,729.21 1609.99,730.53C1610.18,731.85 1610.37,733.17 1610.56,734.48C1610.75,735.8 1610.94,737.12 1611.13,738.43C1611.32,739.75 1611.51,741.07 1611.7,742.38C1611.89,743.7 1612.08,745.01 1612.27,746.33C1612.46,747.65 1612.64,748.96 1612.83,750.28C1613.02,751.59 1613.21,752.91 1613.4,754.22C1613.58,755.54 1613.77,756.85 1613.96,758.17C1614.15,759.48 1614.34,760.8 1614.53,762.11C1614.73,763.43 1614.92,764.74 1615.11,766.06C1615.31,767.37 1615.5,768.69 1615.7,770C1615.9,771.31 1616.1,772.63 1616.3,773.94C1616.5,775.26 1616.7,776.57 1616.91,777.88C1617.12,779.2 1617.33,780.51 1617.54,781.82C1617.75,783.14 1617.97,784.45 1618.19,785.76C1618.41,787.08 1618.63,788.39 1618.86,789.7C1619.08,791.01 1619.31,792.33 1619.55,793.64C1619.78,794.95 1620.02,796.26 1620.26,797.58C1620.51,798.89 1620.76,800.2 1621.01,801.51C1621.26,802.83 1621.52,804.14 1621.78,805.45C1622.05,806.76 1622.32,808.07 1622.59,809.39C1622.87,810.7 1623.15,812.01 1623.43,813.32C1623.72,814.63 1624.01,815.94 1624.31,817.26C1624.61,818.57 1624.92,819.88 1625.23,821.19C1625.54,822.5 1625.86,823.81 1626.19,825.12C1626.51,826.44 1626.85,827.75 1627.19,829.06C1627.53,830.37 1627.88,831.68 1628.24,832.99C1628.6,834.3 1628.96,835.61 1629.34,836.92C1629.71,838.24 1630.09,839.55 1630.49,840.86C1630.88,842.17 1631.28,843.48 1631.69,844.78C1632.11,846.09 1632.54,847.39 1632.99,848.67C1633.45,849.95 1633.92,851.22 1634.43,852.47C1634.93,853.71 1635.46,854.94 1636.04,856.14C1636.61,857.33 1637.21,858.5 1637.87,859.63C1638.52,860.76 1639.21,861.86 1639.96,862.91C1640.7,863.96 1641.5,864.96 1642.35,865.92C1643.2,866.88 1644.11,867.78 1645.06,868.65C1646.01,869.52 1647.01,870.33 1648.05,871.12C1649.09,871.9 1650.17,872.64 1651.29,873.35C1652.4,874.06 1653.55,874.73 1654.72,875.37C1655.89,876.01 1657.1,876.62 1658.32,877.21C1659.54,877.8 1660.78,878.36 1662.03,878.9C1663.29,879.44 1664.56,879.96 1665.83,880.47C1667.1,880.97 1668.38,881.45 1669.66,881.93C1670.94,882.41 1672.22,882.87 1673.49,883.32C1674.76,883.78 1676.03,884.22 1677.3,884.66C1678.56,885.09 1679.82,885.52 1681.08,885.94C1682.35,886.36 1683.6,886.77 1684.86,887.17C1686.12,887.57 1687.38,887.96 1688.65,888.34C1689.91,888.73 1691.17,889.1 1692.44,889.47C1693.71,889.83 1694.98,890.19 1696.25,890.53C1697.53,890.88 1698.81,891.22 1700.1,891.54C1701.39,891.87 1702.68,892.19 1703.98,892.49C1705.28,892.8 1706.58,893.09 1707.89,893.36C1709.19,893.64 1710.51,893.9 1711.82,894.14C1713.14,894.39 1714.45,894.61 1715.78,894.82C1717.1,895.02 1718.42,895.21 1719.75,895.37C1721.07,895.53 1722.4,895.67 1723.73,895.79C1725.06,895.9 1726.39,895.99 1727.72,896.06C1729.06,896.12 1730.39,896.16 1731.72,896.16C1733.06,896.17 1734.39,896.14 1735.72,896.09C1737.05,896.03 1738.39,895.95 1739.72,895.82C1741.05,895.7 1742.38,895.54 1743.7,895.35C1745.03,895.15 1746.36,894.93 1747.68,894.66C1749,894.38 1750.98,893.88 1751.64,893.73"/>
<path stroke="#f00" d="M380.45,1335.17C380.97,1335.47 382.46,1336.4 383.53,1337.01C384.61,1337.63 385.73,1338.24 386.88,1338.84C388.04,1339.44 389.24,1340.03 390.46,1340.6C391.69,1341.17 392.95,1341.73 394.23,1342.26C395.51,1342.79 396.82,1343.29 398.14,1343.76C399.46,1344.23 400.81,1344.67 402.16,1345.07C403.51,1345.46 404.87,1345.82 406.23,1346.13C407.6,1346.44 408.97,1346.7 410.33,1346.91C411.69,1347.11 413.06,1347.27 414.4,1347.36C415.75,1347.44 417.09,1347.47 418.41,1347.43C419.74,1347.39 421.04,1347.28 422.33,1347.11C423.62,1346.94 424.9,1346.71 426.16,1346.42C427.42,1346.14 428.67,1345.8 429.91,1345.42C431.15,1345.04 432.38,1344.61 433.6,1344.15C434.81,1343.69 436.02,1343.18 437.22,1342.65C438.43,1342.12 439.62,1341.55 440.81,1340.97C442,1340.38 443.18,1339.77 444.36,1339.15C445.54,1338.53 446.71,1337.88 447.88,1337.24C449.06,1336.59 450.23,1335.93 451.4,1335.28C452.57,1334.63 453.74,1333.97 454.91,1333.32C456.08,1332.68 457.25,1332.04 458.43,1331.41C459.61,1330.79 460.78,1330.17 461.97,1329.59C463.15,1329 464.34,1328.42 465.54,1327.88C466.73,1327.34 467.93,1326.81 469.14,1326.32C470.35,1325.84 471.56,1325.37 472.79,1324.95C474.01,1324.53 475.24,1324.14 476.48,1323.8C477.73,1323.45 478.98,1323.14 480.24,1322.89C481.5,1322.63 482.78,1322.42 484.06,1322.26C485.35,1322.1 486.65,1321.99 487.96,1321.94C489.27,1321.89 490.6,1321.89 491.94,1321.96C493.28,1322.02 494.63,1322.15 495.98,1322.32C497.34,1322.5 498.7,1322.73 500.05,1323.01C501.4,1323.29 502.76,1323.62 504.1,1324C505.44,1324.37 506.78,1324.8 508.09,1325.26C509.4,1325.73 510.7,1326.25 511.98,1326.79C513.25,1327.32 514.5,1327.97 515.74,1328.48C516.98,1328.99 518.19,1329.54 519.4,1329.84C520.61,1330.14 521.81,1330.3 523,1330.28C524.2,1330.26 525.39,1330.04 526.57,1329.73C527.76,1329.43 528.94,1328.95 530.12,1328.43C531.31,1327.9 532.48,1327.25 533.66,1326.58C534.84,1325.92 536.02,1325.16 537.21,1324.42C538.39,1323.69 539.57,1322.9 540.76,1322.18C541.95,1321.45 543.14,1320.71 544.34,1320.07C545.54,1319.42 546.74,1318.82 547.96,1318.32C549.17,1317.82 550.39,1317.42 551.62,1317.07C552.85,1316.72 554.09,1316.47 555.35,1316.22C556.6,1315.97 557.86,1315.79 559.15,1315.59C560.43,1315.4 561.72,1315.24 563.04,1315.03C564.36,1314.83 565.69,1314.63 567.04,1314.38C568.39,1314.13 569.77,1313.8 571.14,1313.55C572.51,1313.31 573.9,1313.01 575.24,1312.89C576.58,1312.78 577.91,1312.74 579.19,1312.87C580.48,1313 581.73,1313.31 582.96,1313.67C584.19,1314.03 585.4,1314.53 586.6,1315.04C587.81,1315.56 588.99,1316.17 590.19,1316.74C591.39,1317.32 592.59,1317.95 593.81,1318.5C595.03,1319.05 596.27,1319.62 597.53,1320.06C598.78,1320.5 600.08,1320.91 601.34,1321.14C602.61,1321.37 603.89,1321.51 605.11,1321.45C606.34,1321.38 607.54,1321.13 608.7,1320.75C609.87,1320.37 611,1319.81 612.09,1319.16C613.19,1318.51 614.25,1317.71 615.29,1316.85C616.32,1315.99 617.31,1315.01 618.28,1314C619.24,1312.99 620.17,1311.89 621.07,1310.79C621.97,1309.69 622.83,1308.53 623.67,1307.39C624.5,1306.25 625.3,1305.09 626.09,1303.94C626.87,1302.79 627.62,1301.63 628.37,1300.48C629.12,1299.33 629.84,1298.18 630.57,1297.04C631.3,1295.91 632.02,1294.77 632.75,1293.65C633.48,1292.54 634.2,1291.43 634.95,1290.34C635.69,1289.25 636.44,1288.18 637.22,1287.13C638,1286.08 638.8,1285.05 639.63,1284.05C640.46,1283.05 641.31,1282.08 642.21,1281.14C643.11,1280.2 644.05,1279.28 645.03,1278.41C646.02,1277.54 647.06,1276.66 648.12,1275.94C649.19,1275.23 650.3,1274.55 651.42,1274.11C652.54,1273.67 653.69,1273.4 654.84,1273.31C656,1273.21 657.17,1273.31 658.33,1273.53C659.5,1273.75 660.67,1274.14 661.84,1274.62C663.01,1275.11 664.18,1275.74 665.33,1276.45C666.48,1277.15 667.63,1277.98 668.75,1278.85C669.87,1279.73 670.98,1280.7 672.06,1281.7C673.14,1282.69 674.2,1283.76 675.22,1284.84C676.24,1285.91 677.24,1287.02 678.19,1288.12C679.14,1289.22 680.05,1290.33 680.92,1291.43C681.8,1292.53 682.64,1293.63 683.45,1294.73C684.26,1295.83 685.04,1296.92 685.8,1298.02C686.56,1299.12 687.3,1300.21 688.02,1301.3C688.74,1302.4 689.43,1303.49 690.12,1304.58C690.81,1305.67 691.49,1306.76 692.16,1307.84C692.83,1308.93 693.49,1310.01 694.16,1311.1C694.83,1312.18 695.49,1313.26 696.16,1314.34C696.83,1315.42 697.5,1316.5 698.19,1317.57C698.88,1318.65 699.58,1319.72 700.29,1320.79C701.01,1321.86 701.74,1322.93 702.5,1324C703.25,1325.07 704.03,1326.13 704.84,1327.2C705.64,1328.26 706.47,1329.32 707.35,1330.38C708.22,1331.43 709.12,1332.53 710.06,1333.54C711.01,1334.55 711.99,1335.66 713.02,1336.42C714.06,1337.19 715.13,1337.91 716.26,1338.15C717.39,1338.39 718.59,1338.26 719.79,1337.89C721,1337.52 722.26,1336.72 723.48,1335.92C724.69,1335.12 725.92,1334.05 727.07,1333.08C728.23,1332.1 729.33,1331.07 730.4,1330.09C731.47,1329.11 732.48,1328.13 733.48,1327.18C734.48,1326.23 735.45,1325.3 736.43,1324.4C737.4,1323.49 738.36,1322.61 739.34,1321.77C740.33,1320.93 741.31,1320.12 742.33,1319.36C743.36,1318.6 744.4,1317.87 745.51,1317.2C746.61,1316.53 747.75,1315.9 748.97,1315.34C750.18,1314.78 751.48,1314.24 752.79,1313.85C754.09,1313.45 755.48,1313.11 756.79,1312.98C758.1,1312.85 759.42,1312.88 760.67,1313.08C761.92,1313.28 763.12,1313.7 764.31,1314.19C765.5,1314.69 766.64,1315.35 767.79,1316.04C768.93,1316.73 770.05,1317.55 771.19,1318.34C772.32,1319.14 773.45,1320.01 774.6,1320.81C775.75,1321.61 776.91,1322.44 778.11,1323.15C779.31,1323.86 780.55,1324.58 781.79,1325.08C783.04,1325.58 784.34,1326.03 785.57,1326.17C786.81,1326.31 788.04,1326.21 789.21,1325.91C790.38,1325.6 791.51,1325.01 792.59,1324.34C793.67,1323.66 794.71,1322.76 795.69,1321.83C796.68,1320.9 797.62,1319.82 798.5,1318.77C799.39,1317.71 800.21,1316.59 801.01,1315.5C801.81,1314.41 802.54,1313.31 803.31,1312.23C804.07,1311.16 804.8,1310.08 805.6,1309.03C806.4,1307.98 807.21,1306.95 808.08,1305.95C808.95,1304.95 809.88,1303.98 810.83,1303.02C811.77,1302.06 812.76,1301.13 813.74,1300.19C814.72,1299.25 815.74,1298.32 816.72,1297.38C817.71,1296.44 818.7,1295.5 819.65,1294.54C820.61,1293.58 821.55,1292.62 822.43,1291.61C823.32,1290.61 824.16,1289.59 824.95,1288.53C825.74,1287.48 826.48,1286.39 827.18,1285.28C827.88,1284.17 828.53,1283.04 829.14,1281.88C829.76,1280.72 830.33,1279.54 830.87,1278.34C831.41,1277.15 831.92,1275.92 832.4,1274.69C832.88,1273.46 833.33,1272.21 833.76,1270.95C834.19,1269.69 834.59,1268.41 834.98,1267.13C835.37,1265.85 835.73,1264.55 836.09,1263.25C836.45,1261.96 836.8,1260.65 837.14,1259.34C837.48,1258.04 837.81,1256.72 838.14,1255.41C838.47,1254.11 838.8,1252.79 839.13,1251.49C839.47,1250.18 839.8,1248.88 840.15,1247.58C840.49,1246.29 840.83,1244.99 841.18,1243.7C841.53,1242.41 841.89,1241.12 842.24,1239.84C842.6,1238.55 842.96,1237.27 843.32,1235.99C843.68,1234.71 844.04,1233.44 844.4,1232.16C844.77,1230.88 845.13,1229.61 845.5,1228.33C845.86,1227.06 846.23,1225.79 846.6,1224.51C846.96,1223.24 847.33,1221.97 847.69,1220.69C848.06,1219.42 848.42,1218.15 848.78,1216.87C849.15,1215.6 849.51,1214.32 849.86,1213.05C850.22,1211.77 850.58,1210.49 850.93,1209.21C851.29,1207.93 851.64,1206.65 851.98,1205.36C852.33,1204.08 852.67,1202.79 853.01,1201.5C853.35,1200.2 853.68,1198.91 854.01,1197.61C854.34,1196.31 854.66,1195.01 854.98,1193.7C855.3,1192.4 855.62,1191.09 855.94,1189.78C856.26,1188.48 856.58,1187.17 856.9,1185.86C857.22,1184.55 857.55,1183.24 857.88,1181.93C858.21,1180.63 858.55,1179.32 858.9,1178.02C859.24,1176.72 859.6,1175.43 859.96,1174.13C860.33,1172.84 860.71,1171.55 861.1,1170.27C861.49,1168.99 861.9,1167.71 862.32,1166.45C862.74,1165.18 863.18,1163.92 863.64,1162.67C864.1,1161.42 864.58,1160.18 865.08,1158.95C865.58,1157.71 866.1,1156.49 866.65,1155.28C867.2,1154.08 867.77,1152.88 868.37,1151.69C868.97,1150.51 869.6,1149.33 870.27,1148.2C870.94,1147.06 871.63,1145.94 872.39,1144.89C873.15,1143.83 873.95,1142.81 874.83,1141.87C875.7,1140.94 876.63,1140.05 877.64,1139.27C878.65,1138.49 879.74,1137.78 880.9,1137.18C882.06,1136.58 883.31,1136.08 884.6,1135.67C885.88,1135.27 887.23,1134.95 888.6,1134.73C889.96,1134.51 891.38,1134.38 892.78,1134.34C894.19,1134.3 895.62,1134.35 897.02,1134.49C898.42,1134.63 899.83,1134.85 901.19,1135.16C902.54,1135.48 903.89,1135.87 905.15,1136.35C906.42,1136.83 907.65,1137.4 908.8,1138.04C909.94,1138.69 911.01,1139.42 912.01,1140.22C913.02,1141.01 913.95,1141.89 914.82,1142.81C915.7,1143.74 916.51,1144.74 917.27,1145.78C918.04,1146.82 918.74,1147.92 919.41,1149.04C920.08,1150.17 920.7,1151.35 921.29,1152.55C921.88,1153.75 922.43,1154.99 922.96,1156.24C923.48,1157.49 923.98,1158.77 924.46,1160.05C924.94,1161.33 925.39,1162.62 925.84,1163.91C926.29,1165.2 926.72,1166.49 927.15,1167.77C927.58,1169.05 928,1170.33 928.41,1171.61C928.83,1172.89 929.23,1174.16 929.64,1175.43C930.05,1176.7 930.45,1177.97 930.85,1179.24C931.25,1180.51 931.64,1181.77 932.04,1183.04C932.44,1184.3 932.83,1185.56 933.24,1186.82C933.64,1188.09 934.04,1189.35 934.44,1190.61C934.85,1191.87 935.26,1193.13 935.68,1194.39C936.09,1195.65 936.51,1196.91 936.94,1198.17C937.37,1199.43 937.8,1200.69 938.23,1201.95C938.67,1203.21 939.11,1204.47 939.56,1205.73C940,1206.99 940.46,1208.24 940.91,1209.5C941.37,1210.76 941.83,1212.01 942.3,1213.27C942.76,1214.52 943.23,1215.78 943.71,1217.03C944.18,1218.28 944.66,1219.53 945.15,1220.78C945.63,1222.03 946.12,1223.28 946.62,1224.52C947.11,1225.77 947.61,1227.01 948.12,1228.25C948.62,1229.5 949.13,1230.74 949.64,1231.97C950.16,1233.21 950.68,1234.45 951.2,1235.68C951.72,1236.91 952.25,1238.15 952.78,1239.37C953.31,1240.6 953.85,1241.83 954.39,1243.05C954.93,1244.27 955.48,1245.49 956.03,1246.71C956.58,1247.93 957.13,1249.14 957.69,1250.35C958.25,1251.56 958.81,1252.77 959.38,1253.98C959.95,1255.18 960.52,1256.38 961.1,1257.58C961.67,1258.77 962.26,1259.97 962.84,1261.16C963.43,1262.35 964.02,1263.53 964.61,1264.71C965.2,1265.9 965.8,1267.07 966.4,1268.25C967,1269.42 967.61,1270.59 968.22,1271.76C968.82,1272.93 969.43,1274.1 970.05,1275.27C970.66,1276.44 971.27,1277.61 971.88,1278.78C972.5,1279.95 973.11,1281.12 973.73,1282.29C974.34,1283.46 974.95,1284.64 975.56,1285.82C976.18,1287 976.79,1288.18 977.39,1289.37C978,1290.56 978.61,1291.75 979.21,1292.95C979.81,1294.15 980.41,1295.36 981.01,1296.57C981.6,1297.79 982.19,1299.01 982.78,1300.24C983.37,1301.48 983.95,1302.72 984.52,1303.97C985.1,1305.22 985.66,1306.49 986.23,1307.75C986.81,1309.01 987.37,1310.28 987.98,1311.51C988.59,1312.74 989.2,1313.97 989.87,1315.13C990.54,1316.29 991.24,1317.43 992.01,1318.48C992.78,1319.54 993.59,1320.55 994.5,1321.45C995.41,1322.35 996.37,1323.19 997.45,1323.91C998.53,1324.62 999.72,1325.26 1000.97,1325.74C1002.21,1326.21 1003.62,1326.59 1004.93,1326.74C1006.23,1326.89 1007.56,1326.86 1008.79,1326.64C1010.03,1326.42 1011.2,1325.97 1012.33,1325.41C1013.45,1324.84 1014.52,1324.08 1015.54,1323.24C1016.56,1322.39 1017.53,1321.39 1018.45,1320.33C1019.37,1319.27 1020.24,1318.08 1021.07,1316.88C1021.9,1315.68 1022.66,1314.36 1023.44,1313.11C1024.22,1311.86 1024.95,1310.54 1025.75,1309.38C1026.55,1308.21 1027.35,1307.07 1028.25,1306.12C1029.14,1305.18 1030.11,1304.37 1031.14,1303.72C1032.18,1303.06 1033.3,1302.58 1034.46,1302.19C1035.62,1301.8 1036.85,1301.56 1038.1,1301.4C1039.36,1301.23 1040.66,1301.18 1041.98,1301.19C1043.3,1301.19 1044.66,1301.29 1046.02,1301.41C1047.38,1301.53 1048.76,1301.72 1050.12,1301.91C1051.48,1302.1 1052.85,1302.33 1054.19,1302.54C1055.53,1302.75 1056.86,1302.97 1058.15,1303.15C1059.45,1303.34 1060.7,1303.49 1061.96,1303.67C1063.21,1303.85 1064.44,1304.01 1065.7,1304.23C1066.96,1304.45 1068.21,1304.67 1069.51,1304.99C1070.81,1305.31 1072.14,1305.7 1073.5,1306.14C1074.87,1306.57 1076.29,1307.13 1077.7,1307.6C1079.1,1308.08 1080.54,1308.61 1081.92,1308.97C1083.31,1309.33 1084.69,1309.65 1086.01,1309.77C1087.32,1309.89 1088.59,1309.85 1089.81,1309.69C1091.03,1309.52 1092.2,1309.19 1093.32,1308.76C1094.44,1308.32 1095.51,1307.75 1096.54,1307.09C1097.57,1306.44 1098.55,1305.66 1099.49,1304.81C1100.42,1303.96 1101.31,1303.01 1102.16,1302.01C1103.01,1301.02 1103.81,1299.93 1104.57,1298.82C1105.34,1297.7 1106.05,1296.52 1106.73,1295.33C1107.41,1294.14 1108.05,1292.9 1108.65,1291.67C1109.24,1290.43 1109.8,1289.18 1110.32,1287.93C1110.85,1286.68 1111.33,1285.42 1111.81,1284.17C1112.28,1282.91 1112.73,1281.66 1113.17,1280.4C1113.61,1279.14 1114.04,1277.89 1114.47,1276.63C1114.91,1275.38 1115.34,1274.13 1115.79,1272.88C1116.24,1271.63 1116.7,1270.39 1117.19,1269.15C1117.67,1267.92 1118.18,1266.69 1118.73,1265.47C1119.28,1264.24 1119.85,1263.03 1120.48,1261.82C1121.11,1260.62 1121.78,1259.43 1122.52,1258.25C1123.26,1257.07 1124.05,1255.86 1124.9,1254.74C1125.76,1253.63 1126.69,1252.48 1127.66,1251.54C1128.63,1250.59 1129.66,1249.7 1130.74,1249.09C1131.81,1248.47 1132.94,1248.04 1134.1,1247.83C1135.26,1247.63 1136.46,1247.65 1137.68,1247.83C1138.9,1248.02 1140.16,1248.41 1141.42,1248.95C1142.67,1249.49 1143.96,1250.24 1145.23,1251.05C1146.5,1251.87 1147.79,1252.94 1149.06,1253.83C1150.32,1254.71 1151.59,1255.73 1152.83,1256.38C1154.07,1257.03 1155.29,1257.54 1156.48,1257.75C1157.68,1257.96 1158.85,1257.88 1159.99,1257.65C1161.13,1257.42 1162.25,1256.95 1163.34,1256.38C1164.43,1255.82 1165.5,1255.06 1166.53,1254.27C1167.57,1253.48 1168.59,1252.54 1169.57,1251.62C1170.55,1250.71 1171.51,1249.73 1172.44,1248.76C1173.37,1247.79 1174.28,1246.8 1175.16,1245.79C1176.04,1244.79 1176.89,1243.77 1177.72,1242.73C1178.55,1241.7 1179.35,1240.65 1180.14,1239.58C1180.92,1238.52 1181.68,1237.44 1182.42,1236.34C1183.15,1235.25 1183.87,1234.14 1184.56,1233.02C1185.26,1231.9 1185.93,1230.77 1186.59,1229.62C1187.24,1228.47 1187.88,1227.31 1188.49,1226.14C1189.11,1224.97 1189.71,1223.79 1190.29,1222.59C1190.87,1221.39 1191.43,1220.18 1191.98,1218.97C1192.53,1217.75 1193.06,1216.52 1193.57,1215.27C1194.09,1214.03 1194.59,1212.78 1195.08,1211.52C1195.57,1210.26 1196.04,1208.98 1196.5,1207.7C1196.96,1206.42 1197.41,1205.13 1197.84,1203.83C1198.28,1202.53 1198.7,1201.22 1199.12,1199.9C1199.53,1198.58 1199.93,1197.25 1200.33,1195.92C1200.73,1194.59 1201.11,1193.25 1201.5,1191.91C1201.9,1190.58 1202.29,1189.24 1202.69,1187.92C1203.1,1186.59 1203.51,1185.27 1203.95,1183.98C1204.39,1182.68 1204.85,1181.4 1205.34,1180.14C1205.83,1178.89 1206.34,1177.65 1206.9,1176.46C1207.46,1175.26 1208.05,1174.09 1208.69,1172.97C1209.34,1171.85 1210.02,1170.76 1210.77,1169.72C1211.52,1168.69 1212.32,1167.69 1213.19,1166.76C1214.07,1165.83 1215,1164.94 1216.01,1164.13C1217.02,1163.31 1218.13,1162.53 1219.27,1161.88C1220.42,1161.22 1221.69,1160.58 1222.91,1160.18C1224.12,1159.78 1225.4,1159.46 1226.55,1159.46C1227.71,1159.46 1228.85,1159.66 1229.85,1160.17C1230.84,1160.69 1231.72,1161.55 1232.53,1162.54C1233.33,1163.54 1234.03,1164.83 1234.69,1166.15C1235.36,1167.46 1235.93,1168.99 1236.51,1170.44C1237.08,1171.9 1237.6,1173.46 1238.13,1174.9C1238.66,1176.34 1239.17,1177.73 1239.69,1179.07C1240.2,1180.41 1240.7,1181.69 1241.2,1182.95C1241.69,1184.21 1242.18,1185.41 1242.65,1186.62C1243.12,1187.82 1243.58,1188.99 1244.03,1190.17C1244.47,1191.35 1244.9,1192.51 1245.31,1193.69C1245.72,1194.88 1246.11,1196.07 1246.49,1197.28C1246.87,1198.49 1247.22,1199.72 1247.57,1200.97C1247.92,1202.21 1248.25,1203.47 1248.59,1204.74C1248.92,1206.01 1249.24,1207.3 1249.58,1208.59C1249.91,1209.88 1250.23,1211.18 1250.57,1212.48C1250.91,1213.79 1251.25,1215.1 1251.61,1216.4C1251.97,1217.71 1252.33,1219.03 1252.72,1220.34C1253.11,1221.64 1253.52,1222.96 1253.95,1224.26C1254.39,1225.56 1254.84,1226.86 1255.34,1228.14C1255.85,1229.41 1256.38,1230.68 1256.99,1231.91C1257.6,1233.13 1258.25,1234.34 1259,1235.48C1259.75,1236.63 1260.57,1237.75 1261.5,1238.78C1262.42,1239.81 1263.47,1240.85 1264.55,1241.66C1265.64,1242.48 1266.84,1243.25 1268.02,1243.66C1269.19,1244.08 1270.43,1244.28 1271.61,1244.14C1272.78,1244 1273.98,1243.47 1275.05,1242.81C1276.12,1242.16 1277.15,1241.2 1278.03,1240.22C1278.92,1239.25 1279.67,1238.12 1280.34,1236.96C1281.02,1235.8 1281.56,1234.55 1282.07,1233.27C1282.59,1232 1283,1230.65 1283.41,1229.32C1283.82,1227.98 1284.17,1226.61 1284.53,1225.26C1284.9,1223.91 1285.25,1222.57 1285.6,1221.24C1285.95,1219.91 1286.3,1218.59 1286.65,1217.28C1287,1215.97 1287.35,1214.67 1287.69,1213.37C1288.03,1212.08 1288.37,1210.79 1288.7,1209.5C1289.03,1208.21 1289.36,1206.93 1289.68,1205.65C1290,1204.37 1290.32,1203.09 1290.63,1201.8C1290.94,1200.52 1291.24,1199.24 1291.54,1197.95C1291.83,1196.66 1292.12,1195.38 1292.41,1194.09C1292.69,1192.8 1292.97,1191.5 1293.24,1190.21C1293.51,1188.92 1293.78,1187.62 1294.04,1186.32C1294.3,1185.02 1294.55,1183.73 1294.8,1182.42C1295.05,1181.12 1295.29,1179.82 1295.53,1178.52C1295.77,1177.21 1296,1175.91 1296.23,1174.6C1296.46,1173.29 1296.68,1171.98 1296.9,1170.67C1297.12,1169.36 1297.34,1168.05 1297.55,1166.74C1297.76,1165.43 1297.97,1164.11 1298.17,1162.8C1298.37,1161.48 1298.57,1160.16 1298.77,1158.85C1298.97,1157.53 1299.16,1156.21 1299.35,1154.89C1299.54,1153.57 1299.73,1152.25 1299.92,1150.93C1300.1,1149.61 1300.28,1148.29 1300.46,1146.96C1300.64,1145.64 1300.82,1144.32 1301,1142.99C1301.17,1141.67 1301.34,1140.34 1301.52,1139.02C1301.69,1137.69 1301.86,1136.37 1302.03,1135.04C1302.2,1133.71 1302.36,1132.39 1302.53,1131.06C1302.7,1129.73 1302.86,1128.4 1303.03,1127.08C1303.19,1125.75 1303.36,1124.42 1303.52,1123.09C1303.68,1121.76 1303.85,1120.43 1304.01,1119.1C1304.17,1117.78 1304.34,1116.45 1304.5,1115.12C1304.66,1113.79 1304.83,1112.46 1304.99,1111.13C1305.16,1109.8 1305.32,1108.47 1305.49,1107.15C1305.65,1105.82 1305.82,1104.49 1305.99,1103.16C1306.16,1101.83 1306.33,1100.51 1306.5,1099.18C1306.67,1097.85 1306.84,1096.53 1307.02,1095.2C1307.19,1093.88 1307.37,1092.55 1307.55,1091.22C1307.73,1089.9 1307.91,1088.58 1308.09,1087.25C1308.28,1085.93 1308.46,1084.61 1308.65,1083.28C1308.84,1081.96 1309.04,1080.64 1309.23,1079.32C1309.43,1078 1309.63,1076.68 1309.83,1075.36C1310.03,1074.05 1310.24,1072.73 1310.44,1071.41C1310.65,1070.09 1310.87,1068.78 1311.08,1067.46C1311.3,1066.15 1311.51,1064.83 1311.73,1063.52C1311.96,1062.21 1312.18,1060.89 1312.41,1059.58C1312.64,1058.27 1312.87,1056.96 1313.1,1055.65C1313.34,1054.34 1313.58,1053.03 1313.82,1051.72C1314.06,1050.41 1314.3,1049.1 1314.55,1047.79C1314.8,1046.48 1315.05,1045.17 1315.3,1043.87C1315.56,1042.56 1315.82,1041.25 1316.08,1039.95C1316.34,1038.64 1316.6,1037.34 1316.87,1036.03C1317.14,1034.73 1317.41,1033.42 1317.68,1032.12C1317.96,1030.81 1318.24,1029.51 1318.52,1028.21C1318.8,1026.9 1319.08,1025.6 1319.37,1024.3C1319.66,1023 1319.95,1021.69 1320.25,1020.39C1320.54,1019.09 1320.84,1017.79 1321.14,1016.49C1321.45,1015.19 1321.75,1013.89 1322.06,1012.59C1322.37,1011.29 1322.68,1009.99 1323,1008.69C1323.31,1007.39 1323.63,1006.09 1323.95,1004.79C1324.28,1003.49 1324.6,1002.19 1324.94,1000.89C1325.28,999.6 1325.62,998.3 1325.97,997.01C1326.33,995.72 1326.7,994.44 1327.09,993.16C1327.48,991.88 1327.88,990.61 1328.31,989.35C1328.74,988.09 1329.18,986.83 1329.66,985.59C1330.14,984.35 1330.64,983.12 1331.17,981.9C1331.71,980.69 1332.27,979.48 1332.87,978.29C1333.48,977.11 1334.1,975.92 1334.79,974.79C1335.49,973.65 1336.21,972.53 1337.02,971.49C1337.82,970.44 1338.68,969.43 1339.64,968.52C1340.59,967.61 1341.61,966.75 1342.75,966.01C1343.88,965.28 1345.14,964.61 1346.43,964.1C1347.72,963.6 1349.15,963.19 1350.5,962.97C1351.86,962.75 1353.22,962.71 1354.54,962.8C1355.86,962.89 1357.16,963.17 1358.42,963.52C1359.68,963.88 1360.92,964.39 1362.12,964.95C1363.32,965.52 1364.49,966.2 1365.62,966.91C1366.75,967.62 1367.85,968.41 1368.92,969.21C1369.98,970.01 1371,970.85 1372,971.71C1372.99,972.58 1373.94,973.48 1374.87,974.4C1375.79,975.33 1376.69,976.28 1377.55,977.26C1378.41,978.23 1379.24,979.24 1380.04,980.27C1380.85,981.3 1381.62,982.35 1382.37,983.42C1383.11,984.5 1383.83,985.59 1384.53,986.71C1385.22,987.82 1385.89,988.96 1386.54,990.11C1387.19,991.26 1387.81,992.44 1388.41,993.62C1389.02,994.81 1389.6,996.01 1390.16,997.22C1390.73,998.44 1391.27,999.67 1391.79,1000.91C1392.32,1002.15 1392.83,1003.4 1393.32,1004.66C1393.81,1005.93 1394.29,1007.2 1394.76,1008.48C1395.22,1009.75 1395.67,1011.04 1396.11,1012.33C1396.55,1013.62 1396.97,1014.92 1397.39,1016.22C1397.81,1017.52 1398.22,1018.83 1398.62,1020.13C1399.02,1021.43 1399.41,1022.74 1399.79,1024.05C1400.18,1025.35 1400.56,1026.65 1400.93,1027.96C1401.31,1029.26 1401.68,1030.56 1402.05,1031.86C1402.41,1033.15 1402.78,1034.45 1403.14,1035.74C1403.5,1037.04 1403.86,1038.33 1404.21,1039.62C1404.57,1040.91 1404.92,1042.19 1405.28,1043.48C1405.63,1044.76 1405.98,1046.04 1406.34,1047.32C1406.69,1048.6 1407.04,1049.88 1407.4,1051.16C1407.75,1052.43 1408.11,1053.7 1408.46,1054.97C1408.82,1056.24 1409.18,1057.51 1409.54,1058.77C1409.9,1060.04 1410.27,1061.3 1410.64,1062.56C1411.01,1063.82 1411.38,1065.07 1411.76,1066.33C1412.13,1067.58 1412.51,1068.83 1412.9,1070.08C1413.29,1071.32 1413.68,1072.57 1414.08,1073.81C1414.48,1075.05 1414.89,1076.29 1415.3,1077.52C1415.72,1078.76 1416.14,1079.99 1416.57,1081.22C1417,1082.45 1417.44,1083.67 1417.88,1084.9C1418.32,1086.13 1418.77,1087.36 1419.22,1088.59C1419.67,1089.82 1420.13,1091.06 1420.59,1092.29C1421.05,1093.53 1421.52,1094.78 1421.99,1096.03C1422.45,1097.28 1422.93,1098.53 1423.4,1099.8C1423.87,1101.06 1424.34,1102.34 1424.82,1103.62C1425.29,1104.91 1425.77,1106.2 1426.24,1107.51C1426.72,1108.82 1427.19,1110.14 1427.66,1111.48C1428.14,1112.82 1428.61,1114.17 1429.07,1115.54C1429.54,1116.91 1429.99,1118.32 1430.47,1119.7C1430.95,1121.08 1431.39,1122.53 1431.93,1123.82C1432.48,1125.11 1433.03,1126.4 1433.73,1127.44C1434.43,1128.48 1435.21,1129.42 1436.14,1130.07C1437.08,1130.72 1438.19,1131.13 1439.33,1131.33C1440.46,1131.53 1441.74,1131.48 1442.93,1131.27C1444.12,1131.05 1445.39,1130.62 1446.49,1130.04C1447.59,1129.46 1448.64,1128.68 1449.53,1127.8C1450.41,1126.91 1451.14,1125.84 1451.79,1124.72C1452.44,1123.59 1452.95,1122.33 1453.43,1121.04C1453.92,1119.75 1454.3,1118.37 1454.68,1117.01C1455.07,1115.64 1455.41,1114.23 1455.77,1112.86C1456.13,1111.48 1456.48,1110.12 1456.83,1108.76C1457.18,1107.4 1457.53,1106.06 1457.88,1104.72C1458.23,1103.38 1458.58,1102.05 1458.92,1100.72C1459.27,1099.4 1459.61,1098.08 1459.95,1096.77C1460.29,1095.46 1460.63,1094.15 1460.96,1092.85C1461.29,1091.55 1461.63,1090.25 1461.95,1088.96C1462.28,1087.66 1462.6,1086.37 1462.92,1085.08C1463.24,1083.79 1463.55,1082.5 1463.86,1081.22C1464.17,1079.93 1464.47,1078.64 1464.77,1077.35C1465.07,1076.06 1465.37,1074.78 1465.66,1073.49C1465.94,1072.2 1466.23,1070.9 1466.51,1069.61C1466.79,1068.32 1467.06,1067.03 1467.33,1065.73C1467.61,1064.44 1467.87,1063.14 1468.14,1061.85C1468.4,1060.55 1468.66,1059.25 1468.92,1057.95C1469.18,1056.66 1469.43,1055.36 1469.68,1054.06C1469.94,1052.76 1470.19,1051.46 1470.43,1050.16C1470.68,1048.86 1470.93,1047.56 1471.17,1046.25C1471.42,1044.95 1471.66,1043.65 1471.9,1042.35C1472.15,1041.04 1472.39,1039.74 1472.63,1038.44C1472.87,1037.13 1473.11,1035.83 1473.35,1034.52C1473.6,1033.22 1473.84,1031.91 1474.08,1030.61C1474.32,1029.3 1474.57,1028 1474.81,1026.69C1475.06,1025.39 1475.3,1024.08 1475.55,1022.78C1475.8,1021.47 1476.04,1020.16 1476.3,1018.86C1476.55,1017.55 1476.8,1016.25 1477.06,1014.94C1477.31,1013.63 1477.57,1012.33 1477.84,1011.02C1478.1,1009.72 1478.36,1008.41 1478.63,1007.11C1478.9,1005.8 1479.18,1004.5 1479.46,1003.19C1479.73,1001.89 1480.02,1000.58 1480.3,999.28C1480.59,997.97 1480.88,996.67 1481.18,995.37C1481.48,994.07 1481.78,992.76 1482.09,991.46C1482.4,990.16 1482.71,988.86 1483.03,987.56C1483.35,986.26 1483.68,984.96 1484.01,983.66C1484.35,982.36 1484.69,981.06 1485.04,979.76C1485.39,978.46 1485.74,977.17 1486.11,975.87C1486.47,974.57 1486.84,973.28 1487.22,971.98C1487.6,970.69 1487.99,969.4 1488.39,968.1C1488.79,966.81 1489.19,965.52 1489.61,964.23C1490.03,962.94 1490.45,961.65 1490.89,960.36C1491.32,959.08 1491.77,957.79 1492.23,956.5C1492.68,955.22 1493.15,953.93 1493.63,952.65C1494.11,951.37 1494.59,950.08 1495.1,948.81C1495.61,947.55 1496.13,946.27 1496.69,945.05C1497.25,943.83 1497.84,942.62 1498.48,941.48C1499.13,940.34 1499.81,939.24 1500.57,938.22C1501.33,937.2 1502.13,936.24 1503.03,935.38C1503.93,934.52 1504.89,933.73 1505.95,933.07C1507.02,932.41 1508.19,931.83 1509.42,931.41C1510.65,930.99 1512.02,930.67 1513.33,930.54C1514.64,930.41 1516.03,930.41 1517.3,930.63C1518.57,930.84 1519.8,931.26 1520.93,931.84C1522.06,932.41 1523.09,933.23 1524.08,934.1C1525.08,934.97 1525.99,936.02 1526.9,937.07C1527.82,938.12 1528.68,939.28 1529.58,940.38C1530.48,941.48 1531.36,942.63 1532.3,943.66C1533.24,944.69 1534.19,945.71 1535.23,946.54C1536.27,947.38 1537.37,948.1 1538.55,948.68C1539.72,949.25 1540.99,949.64 1542.28,950C1543.56,950.36 1544.92,950.57 1546.26,950.81C1547.6,951.04 1548.99,951.19 1550.33,951.4C1551.67,951.62 1553.03,951.8 1554.32,952.1C1555.61,952.4 1556.88,952.72 1558.06,953.2C1559.25,953.69 1560.37,954.28 1561.41,955.01C1562.44,955.73 1563.4,956.61 1564.29,957.55C1565.18,958.5 1565.99,959.57 1566.74,960.68C1567.49,961.79 1568.18,963 1568.81,964.22C1569.44,965.44 1570,966.72 1570.52,967.99C1571.04,969.26 1571.5,970.55 1571.93,971.84C1572.36,973.12 1572.73,974.41 1573.09,975.69C1573.45,976.98 1573.77,978.27 1574.09,979.56C1574.41,980.85 1574.71,982.14 1575.02,983.43C1575.32,984.73 1575.63,986.02 1575.93,987.31C1576.24,988.6 1576.55,989.89 1576.86,991.19C1577.16,992.48 1577.47,993.77 1577.78,995.07C1578.09,996.36 1578.4,997.65 1578.71,998.95C1579.02,1000.24 1579.33,1001.53 1579.64,1002.83C1579.96,1004.12 1580.27,1005.42 1580.58,1006.71C1580.89,1008.01 1581.2,1009.3 1581.51,1010.6C1581.82,1011.9 1582.13,1013.19 1582.44,1014.49C1582.75,1015.79 1583.06,1017.08 1583.37,1018.38C1583.68,1019.68 1583.98,1020.97 1584.29,1022.27C1584.6,1023.57 1584.91,1024.87 1585.21,1026.17C1585.52,1027.47 1585.82,1028.77 1586.12,1030.07C1586.43,1031.37 1586.73,1032.67 1587.03,1033.97C1587.33,1035.27 1587.63,1036.57 1587.92,1037.87C1588.22,1039.17 1588.52,1040.47 1588.81,1041.78C1589.1,1043.08 1589.39,1044.38 1589.68,1045.69C1589.97,1046.99 1590.26,1048.29 1590.55,1049.6C1590.83,1050.9 1591.11,1052.21 1591.4,1053.51C1591.68,1054.82 1591.95,1056.12 1592.23,1057.43C1592.51,1058.74 1592.78,1060.04 1593.05,1061.35C1593.32,1062.66 1593.59,1063.97 1593.86,1065.28C1594.12,1066.59 1594.39,1067.89 1594.65,1069.2C1594.91,1070.51 1595.17,1071.82 1595.43,1073.13C1595.69,1074.44 1595.94,1075.75 1596.2,1077.06C1596.45,1078.38 1596.7,1079.69 1596.96,1081C1597.21,1082.31 1597.45,1083.62 1597.7,1084.93C1597.95,1086.25 1598.19,1087.56 1598.44,1088.87C1598.68,1090.18 1598.92,1091.5 1599.17,1092.81C1599.41,1094.12 1599.65,1095.44 1599.88,1096.75C1600.12,1098.07 1600.36,1099.38 1600.59,1100.69C1600.83,1102.01 1601.06,1103.32 1601.29,1104.64C1601.53,1105.95 1601.76,1107.27 1601.99,1108.58C1602.22,1109.9 1602.45,1111.21 1602.68,1112.53C1602.91,1113.84 1603.13,1115.16 1603.36,1116.47C1603.59,1117.79 1603.81,1119.1 1604.04,1120.42C1604.26,1121.73 1604.49,1123.05 1604.71,1124.36C1604.93,1125.68 1605.15,1126.99 1605.38,1128.31C1605.6,1129.62 1605.82,1130.94 1606.04,1132.25C1606.26,1133.57 1606.48,1134.88 1606.7,1136.2C1606.92,1137.51 1607.14,1138.83 1607.36,1140.14C1607.58,1141.46 1607.8,1142.77 1608.02,1144.09C1608.24,1145.4 1608.46,1146.72 1608.68,1148.03C1608.9,1149.35 1609.11,1150.66 1609.33,1151.97C1609.55,1153.29 1609.77,1154.6 1609.99,1155.91C1610.21,1157.23 1610.43,1158.54 1610.65,1159.86C1610.86,1161.17 1611.08,1162.48 1611.3,1163.79C1611.52,1165.11 1611.74,1166.42 1611.96,1167.73C1612.18,1169.05 1612.39,1170.36 1612.61,1171.67C1612.83,1172.99 1613.05,1174.3 1613.27,1175.61C1613.49,1176.93 1613.71,1178.24 1613.93,1179.55C1614.14,1180.87 1614.36,1182.18 1614.58,1183.49C1614.8,1184.81 1615.02,1186.12 1615.24,1187.44C1615.46,1188.75 1615.68,1190.06 1615.9,1191.38C1616.12,1192.69 1616.34,1194.01 1616.56,1195.32C1616.78,1196.64 1617,1197.95 1617.22,1199.26C1617.44,1200.58 1617.66,1201.9 1617.88,1203.21C1618.1,1204.53 1618.32,1205.84 1618.55,1207.16C1618.77,1208.48 1618.99,1209.79 1619.21,1211.11C1619.43,1212.43 1619.65,1213.74 1619.88,1215.06C1620.1,1216.38 1620.32,1217.7 1620.54,1219.02C1620.77,1220.33 1620.99,1221.65 1621.21,1222.97C1621.44,1224.29 1621.66,1225.61 1621.88,1226.93C1622.11,1228.25 1622.33,1229.57 1622.56,1230.89C1622.78,1232.22 1623.01,1233.54 1623.23,1234.86C1623.46,1236.18 1623.68,1237.51 1623.91,1238.83C1624.13,1240.15 1624.36,1241.48 1624.59,1242.8C1624.82,1244.12 1625.05,1245.45 1625.28,1246.77C1625.51,1248.09 1625.75,1249.41 1625.99,1250.73C1626.22,1252.05 1626.46,1253.37 1626.7,1254.69C1626.95,1256.01 1627.19,1257.32 1627.44,1258.63C1627.69,1259.95 1627.95,1261.26 1628.2,1262.57C1628.46,1263.88 1628.72,1265.18 1628.99,1266.48C1629.26,1267.79 1629.53,1269.09 1629.81,1270.38C1630.09,1271.68 1630.37,1272.97 1630.66,1274.26C1630.95,1275.55 1631.24,1276.83 1631.54,1278.11C1631.85,1279.39 1632.16,1280.67 1632.47,1281.94C1632.79,1283.21 1633.11,1284.47 1633.44,1285.73C1633.77,1286.99 1634.11,1288.25 1634.45,1289.51C1634.79,1290.77 1635.14,1292.03 1635.48,1293.29C1635.83,1294.55 1636.18,1295.82 1636.52,1297.09C1636.87,1298.37 1637.22,1299.65 1637.56,1300.95C1637.9,1302.24 1638.24,1303.55 1638.57,1304.87C1638.91,1306.19 1639.23,1307.54 1639.56,1308.88C1639.89,1310.23 1640.21,1311.59 1640.54,1312.95C1640.88,1314.31 1641.21,1315.67 1641.57,1317.03C1641.93,1318.38 1642.3,1319.73 1642.7,1321.06C1643.1,1322.39 1643.51,1323.71 1643.97,1325C1644.42,1326.28 1644.9,1327.56 1645.43,1328.79C1645.95,1330.02 1646.51,1331.23 1647.12,1332.38C1647.74,1333.54 1648.39,1334.67 1649.11,1335.73C1649.82,1336.8 1650.59,1337.83 1651.42,1338.79C1652.25,1339.75 1653.15,1340.65 1654.1,1341.49C1655.05,1342.33 1656.07,1343.11 1657.13,1343.82C1658.18,1344.53 1659.3,1345.18 1660.44,1345.75C1661.59,1346.32 1662.79,1346.83 1664.01,1347.25C1665.24,1347.68 1666.5,1348.02 1667.78,1348.3C1669.07,1348.58 1670.39,1348.76 1671.71,1348.93C1673.04,1349.1 1674.4,1349.19 1675.75,1349.3C1677.11,1349.41 1678.48,1349.49 1679.85,1349.58C1681.22,1349.68 1682.6,1349.78 1683.97,1349.87C1685.34,1349.95 1686.71,1350.04 1688.07,1350.09C1689.44,1350.14 1690.8,1350.18 1692.14,1350.17C1693.48,1350.17 1694.82,1350.14 1696.13,1350.05C1697.44,1349.96 1698.74,1349.84 1700.01,1349.65C1701.29,1349.46 1702.54,1349.22 1703.76,1348.91C1704.99,1348.59 1706.18,1348.2 1707.35,1347.74C1708.52,1347.28 1709.65,1346.74 1710.76,1346.14C1711.87,1345.54 1712.95,1344.86 1714.01,1344.14C1715.07,1343.42 1716.1,1342.63 1717.11,1341.8C1718.13,1340.97 1719.12,1340.08 1720.09,1339.16C1721.06,1338.24 1722.01,1337.28 1722.95,1336.28C1723.89,1335.29 1724.8,1334.26 1725.71,1333.21C1726.62,1332.16 1727.51,1331.07 1728.39,1329.98C1729.27,1328.89 1730.14,1327.77 1731.01,1326.66C1731.87,1325.54 1732.72,1324.41 1733.57,1323.29C1734.42,1322.16 1735.26,1321.03 1736.1,1319.92C1736.94,1318.8 1737.78,1317.69 1738.61,1316.59C1739.45,1315.5 1740.28,1314.42 1741.12,1313.37C1741.96,1312.32 1742.8,1311.29 1743.65,1310.29C1744.49,1309.3 1745.34,1308.33 1746.2,1307.42C1747.06,1306.5 1747.92,1305.61 1748.79,1304.78C1749.67,1303.95 1751.01,1302.83 1751.45,1302.44"/>
<path stroke="#f00" d="M247.3,93.2H403.2"/>
<path stroke="#000" d="M247.3,177.9H403.2"/>
</g>
<g fill="none" stroke-width="3.6">
<path stroke="#000" d="M902.6,597V647.5"/>
<path stroke="#000" d="M1372.7,320.2V371.3"/>
<path stroke="#000" d="M1525.6,286.4V336.8"/>
<path stroke="#f00" d="M899.5,1110V1162"/>
<path stroke="#f00" d="M1356.3,938.6V990"/>
<path stroke="#f00" d="M1514.3,903.9V956.2"/>
</g>
<g class="ax" stroke-width="5.4" stroke-linecap="butt">
<rect x="228" y="44" width="1676" height="1354"/>
<path stroke-width="5.2" d="M228,1333.52H201.2M228,1204.57H215M228,1075.62H201.2M228,946.67H215M228,817.71H201.2M228,688.76H215M228,559.81H201.2M228,430.86H215M228,301.9H201.2M228,172.95H215M228,44H201.2M228,1398V1424.8M380.36,1398V1411M532.73,1398V1424.8M685.09,1398V1411M837.45,1398V1424.8M989.82,1398V1411M1142.18,1398V1424.8M1294.55,1398V1411M1446.91,1398V1424.8M1599.27,1398V1411M1751.64,1398V1424.8M1904,1398V1411"/>
</g>
<g class="tk" text-anchor="end">
<text transform="translate(184,1351.92) scale(1,1.05)">0</text>
<text transform="translate(184,1094.02) scale(1,1.05)">2</text>
<text transform="translate(184,836.11) scale(1,1.05)">4</text>
<text transform="translate(184,578.21) scale(1,1.05)">6</text>
<text transform="translate(184,320.3) scale(1,1.05)">8</text>
<text transform="translate(184,62.4) scale(1,1.05)">10</text>
</g>
<g class="tk" text-anchor="middle">
<text transform="translate(228,1489) scale(1,1.05)">800</text>
<text transform="translate(532.73,1489) scale(1,1.05)">1000</text>
<text transform="translate(837.45,1489) scale(1,1.05)">1200</text>
<text transform="translate(1142.18,1489) scale(1,1.05)">1400</text>
<text transform="translate(1446.91,1489) scale(1,1.05)">1600</text>
<text transform="translate(1751.64,1489) scale(1,1.05)">1800</text>
</g>
<g class="lb">
<text transform="translate(769.3,1593.8) scale(1,1.02)" text-anchor="start">Wavenumber/cm<tspan dx="-8"> −1</tspan></text>
<text transform="translate(68,663.6) rotate(-90) scale(1,1.02)" text-anchor="middle">Absorbance</text>
<text transform="translate(420.3,118.5) scale(1,1.05)">T</text>
<text transform="translate(420.3,203) scale(1,1.05)">N</text>
<text transform="translate(927.6,596.3) rotate(-90) scale(1,1.05)">1243</text>
<text transform="translate(1397.7,319.5) rotate(-90) scale(1,1.05)">1551</text>
<text transform="translate(1550.6,285.7) rotate(-90) scale(1,1.05)">1652</text>
<text transform="translate(924.5,1109.3) rotate(-90) scale(1,1.05)">1241</text>
<text transform="translate(1381.3,937.9) rotate(-90) scale(1,1.05)">1541</text>
<text transform="translate(1539.3,903.2) rotate(-90) scale(1,1.05)">1644</text>
</g>
</svg>
</body>
</html>
